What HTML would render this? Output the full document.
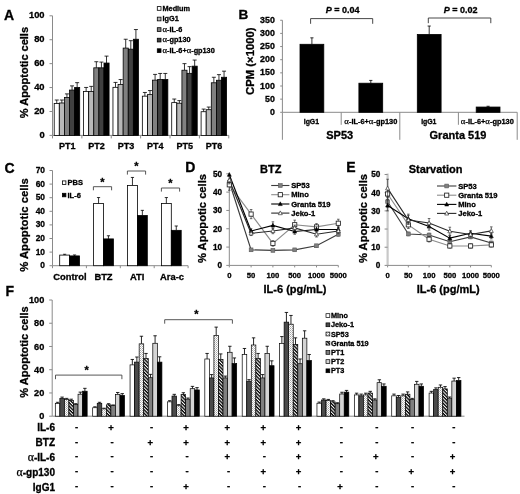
<!DOCTYPE html>
<html><head><meta charset="utf-8"><style>
html,body{margin:0;padding:0;background:#fff;}
svg{display:block;font-family:"Liberation Sans", sans-serif;filter:grayscale(1);}
text{stroke:#000;stroke-width:0.3px;}
</style></head><body>
<svg width="520" height="494" viewBox="0 0 520 494">
<defs>
<pattern id="dots" width="2" height="2" patternUnits="userSpaceOnUse">
<rect width="2" height="2" fill="#fff"/><rect width="1" height="1" fill="#a8a8a8"/><rect x="1" y="1" width="1" height="1" fill="#c8c8c8"/>
</pattern>
<pattern id="hatch" width="2.4" height="2.4" patternUnits="userSpaceOnUse" patternTransform="rotate(45)">
<rect width="2.4" height="2.4" fill="#fff"/><rect width="2.4" height="1.35" fill="#000"/>
</pattern>
</defs>
<rect width="520" height="494" fill="#fff"/>
<text x="4.00" y="19.70" font-size="14" text-anchor="start" font-weight="bold" fill="#000">A</text>
<line x1="52.50" y1="15.80" x2="52.50" y2="135.40" stroke="#8a8a8a" stroke-width="1"/>
<line x1="49.50" y1="135.40" x2="52.50" y2="135.40" stroke="#8a8a8a" stroke-width="1"/>
<text x="44.60" y="138.00" font-size="9.4" text-anchor="end" font-weight="bold" fill="#000">0</text>
<line x1="49.50" y1="111.48" x2="52.50" y2="111.48" stroke="#8a8a8a" stroke-width="1"/>
<text x="44.60" y="114.08" font-size="9.4" text-anchor="end" font-weight="bold" fill="#000">20</text>
<line x1="49.50" y1="87.56" x2="52.50" y2="87.56" stroke="#8a8a8a" stroke-width="1"/>
<text x="44.60" y="90.16" font-size="9.4" text-anchor="end" font-weight="bold" fill="#000">40</text>
<line x1="49.50" y1="63.64" x2="52.50" y2="63.64" stroke="#8a8a8a" stroke-width="1"/>
<text x="44.60" y="66.24" font-size="9.4" text-anchor="end" font-weight="bold" fill="#000">60</text>
<line x1="49.50" y1="39.72" x2="52.50" y2="39.72" stroke="#8a8a8a" stroke-width="1"/>
<text x="44.60" y="42.32" font-size="9.4" text-anchor="end" font-weight="bold" fill="#000">80</text>
<line x1="49.50" y1="15.80" x2="52.50" y2="15.80" stroke="#8a8a8a" stroke-width="1"/>
<text x="44.60" y="18.40" font-size="9.4" text-anchor="end" font-weight="bold" fill="#000">100</text>
<line x1="52.50" y1="135.40" x2="228.78" y2="135.40" stroke="#8a8a8a" stroke-width="1"/>
<line x1="52.50" y1="135.40" x2="52.50" y2="138.40" stroke="#8a8a8a" stroke-width="1"/>
<line x1="81.88" y1="135.40" x2="81.88" y2="138.40" stroke="#8a8a8a" stroke-width="1"/>
<line x1="111.26" y1="135.40" x2="111.26" y2="138.40" stroke="#8a8a8a" stroke-width="1"/>
<line x1="140.64" y1="135.40" x2="140.64" y2="138.40" stroke="#8a8a8a" stroke-width="1"/>
<line x1="170.02" y1="135.40" x2="170.02" y2="138.40" stroke="#8a8a8a" stroke-width="1"/>
<line x1="199.40" y1="135.40" x2="199.40" y2="138.40" stroke="#8a8a8a" stroke-width="1"/>
<line x1="228.78" y1="135.40" x2="228.78" y2="138.40" stroke="#8a8a8a" stroke-width="1"/>
<text x="27.80" y="72.60" font-size="11" text-anchor="middle" font-weight="bold" fill="#000" transform="rotate(-90 27.8 72.6)">% Apoptotic cells</text>
<line x1="56.75" y1="103.59" x2="56.75" y2="100.00" stroke="#000" stroke-width="0.8"/>
<line x1="54.75" y1="100.00" x2="58.75" y2="100.00" stroke="#000" stroke-width="0.8"/>
<rect x="54.20" y="103.59" width="5.10" height="31.81" fill="#ffffff" stroke="#000" stroke-width="0.8"/>
<line x1="61.85" y1="102.99" x2="61.85" y2="100.00" stroke="#000" stroke-width="0.8"/>
<line x1="59.85" y1="100.00" x2="63.85" y2="100.00" stroke="#000" stroke-width="0.8"/>
<rect x="59.30" y="102.99" width="5.10" height="32.41" fill="#b8b8b8" stroke="#000" stroke-width="0.8"/>
<line x1="66.95" y1="97.49" x2="66.95" y2="93.90" stroke="#000" stroke-width="0.8"/>
<line x1="64.95" y1="93.90" x2="68.95" y2="93.90" stroke="#000" stroke-width="0.8"/>
<rect x="64.40" y="97.49" width="5.10" height="37.91" fill="#808080" stroke="#000" stroke-width="0.8"/>
<line x1="72.05" y1="90.07" x2="72.05" y2="85.89" stroke="#000" stroke-width="0.8"/>
<line x1="70.05" y1="85.89" x2="74.05" y2="85.89" stroke="#000" stroke-width="0.8"/>
<rect x="69.50" y="90.07" width="5.10" height="45.33" fill="#404040" stroke="#000" stroke-width="0.8"/>
<line x1="77.15" y1="87.44" x2="77.15" y2="82.66" stroke="#000" stroke-width="0.8"/>
<line x1="75.15" y1="82.66" x2="79.15" y2="82.66" stroke="#000" stroke-width="0.8"/>
<rect x="74.60" y="87.44" width="5.10" height="47.96" fill="#000000" stroke="#000" stroke-width="0.8"/>
<text x="67.19" y="149.20" font-size="9.0" text-anchor="middle" font-weight="bold" fill="#000">PT1</text>
<line x1="86.13" y1="91.51" x2="86.13" y2="87.44" stroke="#000" stroke-width="0.8"/>
<line x1="84.13" y1="87.44" x2="88.13" y2="87.44" stroke="#000" stroke-width="0.8"/>
<rect x="83.58" y="91.51" width="5.10" height="43.89" fill="#ffffff" stroke="#000" stroke-width="0.8"/>
<line x1="91.23" y1="91.51" x2="91.23" y2="86.36" stroke="#000" stroke-width="0.8"/>
<line x1="89.23" y1="86.36" x2="93.23" y2="86.36" stroke="#000" stroke-width="0.8"/>
<rect x="88.68" y="91.51" width="5.10" height="43.89" fill="#b8b8b8" stroke="#000" stroke-width="0.8"/>
<line x1="96.33" y1="67.83" x2="96.33" y2="61.73" stroke="#000" stroke-width="0.8"/>
<line x1="94.33" y1="61.73" x2="98.33" y2="61.73" stroke="#000" stroke-width="0.8"/>
<rect x="93.78" y="67.83" width="5.10" height="67.57" fill="#808080" stroke="#000" stroke-width="0.8"/>
<line x1="101.43" y1="67.83" x2="101.43" y2="62.09" stroke="#000" stroke-width="0.8"/>
<line x1="99.43" y1="62.09" x2="103.43" y2="62.09" stroke="#000" stroke-width="0.8"/>
<rect x="98.88" y="67.83" width="5.10" height="67.57" fill="#404040" stroke="#000" stroke-width="0.8"/>
<line x1="106.53" y1="63.04" x2="106.53" y2="56.11" stroke="#000" stroke-width="0.8"/>
<line x1="104.53" y1="56.11" x2="108.53" y2="56.11" stroke="#000" stroke-width="0.8"/>
<rect x="103.98" y="63.04" width="5.10" height="72.36" fill="#000000" stroke="#000" stroke-width="0.8"/>
<text x="96.57" y="149.20" font-size="9.0" text-anchor="middle" font-weight="bold" fill="#000">PT2</text>
<line x1="115.51" y1="87.32" x2="115.51" y2="82.42" stroke="#000" stroke-width="0.8"/>
<line x1="113.51" y1="82.42" x2="117.51" y2="82.42" stroke="#000" stroke-width="0.8"/>
<rect x="112.96" y="87.32" width="5.10" height="48.08" fill="#ffffff" stroke="#000" stroke-width="0.8"/>
<line x1="120.61" y1="84.57" x2="120.61" y2="79.55" stroke="#000" stroke-width="0.8"/>
<line x1="118.61" y1="79.55" x2="122.61" y2="79.55" stroke="#000" stroke-width="0.8"/>
<rect x="118.06" y="84.57" width="5.10" height="50.83" fill="#b8b8b8" stroke="#000" stroke-width="0.8"/>
<line x1="125.71" y1="48.09" x2="125.71" y2="39.24" stroke="#000" stroke-width="0.8"/>
<line x1="123.71" y1="39.24" x2="127.71" y2="39.24" stroke="#000" stroke-width="0.8"/>
<rect x="123.16" y="48.09" width="5.10" height="87.31" fill="#808080" stroke="#000" stroke-width="0.8"/>
<line x1="130.81" y1="49.17" x2="130.81" y2="40.68" stroke="#000" stroke-width="0.8"/>
<line x1="128.81" y1="40.68" x2="132.81" y2="40.68" stroke="#000" stroke-width="0.8"/>
<rect x="128.26" y="49.17" width="5.10" height="86.23" fill="#404040" stroke="#000" stroke-width="0.8"/>
<line x1="135.91" y1="39.24" x2="135.91" y2="29.55" stroke="#000" stroke-width="0.8"/>
<line x1="133.91" y1="29.55" x2="137.91" y2="29.55" stroke="#000" stroke-width="0.8"/>
<rect x="133.36" y="39.24" width="5.10" height="96.16" fill="#000000" stroke="#000" stroke-width="0.8"/>
<text x="125.95" y="149.20" font-size="9.0" text-anchor="middle" font-weight="bold" fill="#000">PT3</text>
<line x1="144.89" y1="96.17" x2="144.89" y2="92.46" stroke="#000" stroke-width="0.8"/>
<line x1="142.89" y1="92.46" x2="146.89" y2="92.46" stroke="#000" stroke-width="0.8"/>
<rect x="142.34" y="96.17" width="5.10" height="39.23" fill="#ffffff" stroke="#000" stroke-width="0.8"/>
<line x1="149.99" y1="94.62" x2="149.99" y2="90.55" stroke="#000" stroke-width="0.8"/>
<line x1="147.99" y1="90.55" x2="151.99" y2="90.55" stroke="#000" stroke-width="0.8"/>
<rect x="147.44" y="94.62" width="5.10" height="40.78" fill="#b8b8b8" stroke="#000" stroke-width="0.8"/>
<line x1="155.09" y1="80.14" x2="155.09" y2="74.40" stroke="#000" stroke-width="0.8"/>
<line x1="153.09" y1="74.40" x2="157.09" y2="74.40" stroke="#000" stroke-width="0.8"/>
<rect x="152.54" y="80.14" width="5.10" height="55.26" fill="#808080" stroke="#000" stroke-width="0.8"/>
<line x1="160.19" y1="79.55" x2="160.19" y2="73.45" stroke="#000" stroke-width="0.8"/>
<line x1="158.19" y1="73.45" x2="162.19" y2="73.45" stroke="#000" stroke-width="0.8"/>
<rect x="157.64" y="79.55" width="5.10" height="55.85" fill="#404040" stroke="#000" stroke-width="0.8"/>
<line x1="165.29" y1="79.55" x2="165.29" y2="73.45" stroke="#000" stroke-width="0.8"/>
<line x1="163.29" y1="73.45" x2="167.29" y2="73.45" stroke="#000" stroke-width="0.8"/>
<rect x="162.74" y="79.55" width="5.10" height="55.85" fill="#000000" stroke="#000" stroke-width="0.8"/>
<text x="155.33" y="149.20" font-size="9.0" text-anchor="middle" font-weight="bold" fill="#000">PT4</text>
<line x1="174.27" y1="102.63" x2="174.27" y2="99.04" stroke="#000" stroke-width="0.8"/>
<line x1="172.27" y1="99.04" x2="176.27" y2="99.04" stroke="#000" stroke-width="0.8"/>
<rect x="171.72" y="102.63" width="5.10" height="32.77" fill="#ffffff" stroke="#000" stroke-width="0.8"/>
<line x1="179.37" y1="103.23" x2="179.37" y2="100.60" stroke="#000" stroke-width="0.8"/>
<line x1="177.37" y1="100.60" x2="181.37" y2="100.60" stroke="#000" stroke-width="0.8"/>
<rect x="176.82" y="103.23" width="5.10" height="32.17" fill="#b8b8b8" stroke="#000" stroke-width="0.8"/>
<line x1="184.47" y1="70.22" x2="184.47" y2="63.64" stroke="#000" stroke-width="0.8"/>
<line x1="182.47" y1="63.64" x2="186.47" y2="63.64" stroke="#000" stroke-width="0.8"/>
<rect x="181.92" y="70.22" width="5.10" height="65.18" fill="#808080" stroke="#000" stroke-width="0.8"/>
<line x1="189.57" y1="73.33" x2="189.57" y2="66.63" stroke="#000" stroke-width="0.8"/>
<line x1="187.57" y1="66.63" x2="191.57" y2="66.63" stroke="#000" stroke-width="0.8"/>
<rect x="187.02" y="73.33" width="5.10" height="62.07" fill="#404040" stroke="#000" stroke-width="0.8"/>
<line x1="194.67" y1="66.15" x2="194.67" y2="60.05" stroke="#000" stroke-width="0.8"/>
<line x1="192.67" y1="60.05" x2="196.67" y2="60.05" stroke="#000" stroke-width="0.8"/>
<rect x="192.12" y="66.15" width="5.10" height="69.25" fill="#000000" stroke="#000" stroke-width="0.8"/>
<text x="184.71" y="149.20" font-size="9.0" text-anchor="middle" font-weight="bold" fill="#000">PT5</text>
<line x1="203.65" y1="111.72" x2="203.65" y2="109.09" stroke="#000" stroke-width="0.8"/>
<line x1="201.65" y1="109.09" x2="205.65" y2="109.09" stroke="#000" stroke-width="0.8"/>
<rect x="201.10" y="111.72" width="5.10" height="23.68" fill="#ffffff" stroke="#000" stroke-width="0.8"/>
<line x1="208.75" y1="109.69" x2="208.75" y2="107.05" stroke="#000" stroke-width="0.8"/>
<line x1="206.75" y1="107.05" x2="210.75" y2="107.05" stroke="#000" stroke-width="0.8"/>
<rect x="206.20" y="109.69" width="5.10" height="25.71" fill="#b8b8b8" stroke="#000" stroke-width="0.8"/>
<line x1="213.85" y1="82.78" x2="213.85" y2="77.27" stroke="#000" stroke-width="0.8"/>
<line x1="211.85" y1="77.27" x2="215.85" y2="77.27" stroke="#000" stroke-width="0.8"/>
<rect x="211.30" y="82.78" width="5.10" height="52.62" fill="#808080" stroke="#000" stroke-width="0.8"/>
<line x1="218.95" y1="80.26" x2="218.95" y2="74.64" stroke="#000" stroke-width="0.8"/>
<line x1="216.95" y1="74.64" x2="220.95" y2="74.64" stroke="#000" stroke-width="0.8"/>
<rect x="216.40" y="80.26" width="5.10" height="55.14" fill="#404040" stroke="#000" stroke-width="0.8"/>
<line x1="224.05" y1="77.27" x2="224.05" y2="71.17" stroke="#000" stroke-width="0.8"/>
<line x1="222.05" y1="71.17" x2="226.05" y2="71.17" stroke="#000" stroke-width="0.8"/>
<rect x="221.50" y="77.27" width="5.10" height="58.13" fill="#000000" stroke="#000" stroke-width="0.8"/>
<text x="214.09" y="149.20" font-size="9.0" text-anchor="middle" font-weight="bold" fill="#000">PT6</text>
<rect x="157.30" y="6.60" width="3.70" height="3.70" fill="#ffffff" stroke="#000" stroke-width="0.8"/>
<text x="162.50" y="10.80" font-size="7.3" text-anchor="start" font-weight="bold" fill="#000">Medium</text>
<rect x="157.30" y="17.15" width="3.70" height="3.70" fill="#b8b8b8" stroke="#000" stroke-width="0.8"/>
<text x="162.50" y="21.35" font-size="7.3" text-anchor="start" font-weight="bold" fill="#000">IgG1</text>
<rect x="157.30" y="27.70" width="3.70" height="3.70" fill="#808080" stroke="#000" stroke-width="0.8"/>
<text x="162.50" y="31.90" font-size="7.3" text-anchor="start" font-weight="bold" fill="#000"><tspan font-family="Liberation Serif" font-weight="normal" font-size="1.18em" stroke-width="0.25">&#945;</tspan>-IL-6</text>
<rect x="157.30" y="38.25" width="3.70" height="3.70" fill="#404040" stroke="#000" stroke-width="0.8"/>
<text x="162.50" y="42.45" font-size="7.3" text-anchor="start" font-weight="bold" fill="#000"><tspan font-family="Liberation Serif" font-weight="normal" font-size="1.18em" stroke-width="0.25">&#945;</tspan>-gp130</text>
<rect x="157.30" y="48.80" width="3.70" height="3.70" fill="#000000" stroke="#000" stroke-width="0.8"/>
<text x="162.50" y="53.00" font-size="7.3" text-anchor="start" font-weight="bold" fill="#000"><tspan font-family="Liberation Serif" font-weight="normal" font-size="1.18em" stroke-width="0.25">&#945;</tspan>-IL-6+<tspan font-family="Liberation Serif" font-weight="normal" font-size="1.18em" stroke-width="0.25">&#945;</tspan>-gp130</text>
<text x="238.60" y="19.00" font-size="13.6" text-anchor="start" font-weight="bold" fill="#000">B</text>
<line x1="282.40" y1="20.25" x2="282.40" y2="112.30" stroke="#8a8a8a" stroke-width="1"/>
<line x1="280.20" y1="112.30" x2="282.40" y2="112.30" stroke="#8a8a8a" stroke-width="1"/>
<text x="274.80" y="114.90" font-size="8.8" text-anchor="end" font-weight="bold" fill="#000">0</text>
<line x1="280.20" y1="99.15" x2="282.40" y2="99.15" stroke="#8a8a8a" stroke-width="1"/>
<text x="274.80" y="101.75" font-size="8.8" text-anchor="end" font-weight="bold" fill="#000">50</text>
<line x1="280.20" y1="86.00" x2="282.40" y2="86.00" stroke="#8a8a8a" stroke-width="1"/>
<text x="274.80" y="88.60" font-size="8.8" text-anchor="end" font-weight="bold" fill="#000">100</text>
<line x1="280.20" y1="72.85" x2="282.40" y2="72.85" stroke="#8a8a8a" stroke-width="1"/>
<text x="274.80" y="75.45" font-size="8.8" text-anchor="end" font-weight="bold" fill="#000">150</text>
<line x1="280.20" y1="59.70" x2="282.40" y2="59.70" stroke="#8a8a8a" stroke-width="1"/>
<text x="274.80" y="62.30" font-size="8.8" text-anchor="end" font-weight="bold" fill="#000">200</text>
<line x1="280.20" y1="46.55" x2="282.40" y2="46.55" stroke="#8a8a8a" stroke-width="1"/>
<text x="274.80" y="49.15" font-size="8.8" text-anchor="end" font-weight="bold" fill="#000">250</text>
<line x1="280.20" y1="33.40" x2="282.40" y2="33.40" stroke="#8a8a8a" stroke-width="1"/>
<text x="274.80" y="36.00" font-size="8.8" text-anchor="end" font-weight="bold" fill="#000">300</text>
<line x1="280.20" y1="20.25" x2="282.40" y2="20.25" stroke="#8a8a8a" stroke-width="1"/>
<text x="274.80" y="22.85" font-size="8.8" text-anchor="end" font-weight="bold" fill="#000">350</text>
<text x="254.20" y="61.20" font-size="11.3" text-anchor="middle" font-weight="bold" fill="#000" transform="rotate(-90 254.2 61.2)">CPM (&#215;1000)</text>
<line x1="282.40" y1="112.30" x2="517.20" y2="112.30" stroke="#8a8a8a" stroke-width="1"/>
<line x1="282.40" y1="112.30" x2="282.40" y2="139.80" stroke="#8a8a8a" stroke-width="1"/>
<line x1="341.20" y1="112.30" x2="341.20" y2="124.80" stroke="#8a8a8a" stroke-width="1"/>
<line x1="399.80" y1="112.30" x2="399.80" y2="139.80" stroke="#8a8a8a" stroke-width="1"/>
<line x1="458.40" y1="112.30" x2="458.40" y2="124.80" stroke="#8a8a8a" stroke-width="1"/>
<line x1="517.20" y1="112.30" x2="517.20" y2="139.80" stroke="#8a8a8a" stroke-width="1"/>
<line x1="311.90" y1="44.29" x2="311.90" y2="37.84" stroke="#000" stroke-width="0.8"/>
<line x1="310.30" y1="37.84" x2="313.50" y2="37.84" stroke="#000" stroke-width="0.8"/>
<rect x="300.00" y="44.29" width="23.80" height="68.01" fill="#000" stroke="#000" stroke-width="0.8"/>
<line x1="370.80" y1="83.21" x2="370.80" y2="80.42" stroke="#000" stroke-width="0.8"/>
<line x1="369.20" y1="80.42" x2="372.40" y2="80.42" stroke="#000" stroke-width="0.8"/>
<rect x="358.90" y="83.21" width="23.80" height="29.09" fill="#000" stroke="#000" stroke-width="0.8"/>
<line x1="429.20" y1="34.45" x2="429.20" y2="26.04" stroke="#000" stroke-width="0.8"/>
<line x1="427.60" y1="26.04" x2="430.80" y2="26.04" stroke="#000" stroke-width="0.8"/>
<rect x="417.30" y="34.45" width="23.80" height="77.85" fill="#000" stroke="#000" stroke-width="0.8"/>
<line x1="488.10" y1="107.04" x2="488.10" y2="106.25" stroke="#000" stroke-width="0.8"/>
<line x1="486.50" y1="106.25" x2="489.70" y2="106.25" stroke="#000" stroke-width="0.8"/>
<rect x="476.20" y="107.04" width="23.80" height="5.26" fill="#000" stroke="#000" stroke-width="0.8"/>
<text x="311.40" y="123.80" font-size="6.9" text-anchor="middle" font-weight="bold" fill="#000">IgG1</text>
<text x="370.80" y="123.80" font-size="7.4" text-anchor="middle" font-weight="bold" fill="#000"><tspan font-family="Liberation Serif" font-weight="normal" font-size="1.18em" stroke-width="0.25">&#945;</tspan>-IL-6+<tspan font-family="Liberation Serif" font-weight="normal" font-size="1.18em" stroke-width="0.25">&#945;</tspan>-gp130</text>
<text x="428.80" y="123.80" font-size="6.9" text-anchor="middle" font-weight="bold" fill="#000">IgG1</text>
<text x="487.30" y="123.80" font-size="7.4" text-anchor="middle" font-weight="bold" fill="#000"><tspan font-family="Liberation Serif" font-weight="normal" font-size="1.18em" stroke-width="0.25">&#945;</tspan>-IL-6+<tspan font-family="Liberation Serif" font-weight="normal" font-size="1.18em" stroke-width="0.25">&#945;</tspan>-gp130</text>
<text x="339.70" y="139.40" font-size="11" text-anchor="middle" font-weight="bold" fill="#000">SP53</text>
<text x="458.00" y="139.40" font-size="11" text-anchor="middle" font-weight="bold" fill="#000">Granta 519</text>
<path d="M310.6 23.8 V18.6 H372.7 V23.8" fill="none" stroke="#333" stroke-width="0.9"/>
<path d="M428.3 23.2 V18.0 H490.8 V23.2" fill="none" stroke="#333" stroke-width="0.9"/>
<text x="342.6" y="13.3" font-size="9" text-anchor="middle" font-weight="bold"><tspan font-style="italic">P</tspan> = 0.04</text>
<text x="460.6" y="13.3" font-size="9" text-anchor="middle" font-weight="bold"><tspan font-style="italic">P</tspan> = 0.02</text>
<text x="4.40" y="172.60" font-size="14" text-anchor="start" font-weight="bold" fill="#000">C</text>
<line x1="52.50" y1="170.50" x2="52.50" y2="265.70" stroke="#8a8a8a" stroke-width="1"/>
<line x1="49.50" y1="265.70" x2="52.50" y2="265.70" stroke="#8a8a8a" stroke-width="1"/>
<text x="45.00" y="268.20" font-size="8.4" text-anchor="end" font-weight="bold" fill="#000">0</text>
<line x1="49.50" y1="252.10" x2="52.50" y2="252.10" stroke="#8a8a8a" stroke-width="1"/>
<text x="45.00" y="254.60" font-size="8.4" text-anchor="end" font-weight="bold" fill="#000">10</text>
<line x1="49.50" y1="238.50" x2="52.50" y2="238.50" stroke="#8a8a8a" stroke-width="1"/>
<text x="45.00" y="241.00" font-size="8.4" text-anchor="end" font-weight="bold" fill="#000">20</text>
<line x1="49.50" y1="224.90" x2="52.50" y2="224.90" stroke="#8a8a8a" stroke-width="1"/>
<text x="45.00" y="227.40" font-size="8.4" text-anchor="end" font-weight="bold" fill="#000">30</text>
<line x1="49.50" y1="211.30" x2="52.50" y2="211.30" stroke="#8a8a8a" stroke-width="1"/>
<text x="45.00" y="213.80" font-size="8.4" text-anchor="end" font-weight="bold" fill="#000">40</text>
<line x1="49.50" y1="197.70" x2="52.50" y2="197.70" stroke="#8a8a8a" stroke-width="1"/>
<text x="45.00" y="200.20" font-size="8.4" text-anchor="end" font-weight="bold" fill="#000">50</text>
<line x1="49.50" y1="184.10" x2="52.50" y2="184.10" stroke="#8a8a8a" stroke-width="1"/>
<text x="45.00" y="186.60" font-size="8.4" text-anchor="end" font-weight="bold" fill="#000">60</text>
<line x1="49.50" y1="170.50" x2="52.50" y2="170.50" stroke="#8a8a8a" stroke-width="1"/>
<text x="45.00" y="173.00" font-size="8.4" text-anchor="end" font-weight="bold" fill="#000">70</text>
<text x="27.90" y="225.00" font-size="11.3" text-anchor="middle" font-weight="bold" fill="#000" transform="rotate(-90 27.9 225.0)">% Apoptotic cells</text>
<line x1="52.50" y1="265.70" x2="188.10" y2="265.70" stroke="#8a8a8a" stroke-width="1"/>
<line x1="52.50" y1="265.70" x2="52.50" y2="268.20" stroke="#8a8a8a" stroke-width="1"/>
<line x1="86.40" y1="265.70" x2="86.40" y2="268.20" stroke="#8a8a8a" stroke-width="1"/>
<line x1="120.30" y1="265.70" x2="120.30" y2="268.20" stroke="#8a8a8a" stroke-width="1"/>
<line x1="154.20" y1="265.70" x2="154.20" y2="268.20" stroke="#8a8a8a" stroke-width="1"/>
<line x1="188.10" y1="265.70" x2="188.10" y2="268.20" stroke="#8a8a8a" stroke-width="1"/>
<line x1="64.65" y1="255.09" x2="64.65" y2="254.28" stroke="#000" stroke-width="0.8"/>
<line x1="63.05" y1="254.28" x2="66.25" y2="254.28" stroke="#000" stroke-width="0.8"/>
<rect x="59.70" y="255.09" width="9.90" height="10.61" fill="#fff" stroke="#000" stroke-width="0.8"/>
<line x1="74.55" y1="255.91" x2="74.55" y2="254.96" stroke="#000" stroke-width="0.8"/>
<line x1="72.95" y1="254.96" x2="76.15" y2="254.96" stroke="#000" stroke-width="0.8"/>
<rect x="69.60" y="255.91" width="9.90" height="9.79" fill="#000" stroke="#000" stroke-width="0.8"/>
<line x1="98.55" y1="203.55" x2="98.55" y2="197.56" stroke="#000" stroke-width="0.8"/>
<line x1="96.95" y1="197.56" x2="100.15" y2="197.56" stroke="#000" stroke-width="0.8"/>
<rect x="93.60" y="203.55" width="9.90" height="62.15" fill="#fff" stroke="#000" stroke-width="0.8"/>
<line x1="108.45" y1="238.91" x2="108.45" y2="235.78" stroke="#000" stroke-width="0.8"/>
<line x1="106.85" y1="235.78" x2="110.05" y2="235.78" stroke="#000" stroke-width="0.8"/>
<rect x="103.50" y="238.91" width="9.90" height="26.79" fill="#000" stroke="#000" stroke-width="0.8"/>
<line x1="132.45" y1="185.46" x2="132.45" y2="177.44" stroke="#000" stroke-width="0.8"/>
<line x1="130.85" y1="177.44" x2="134.05" y2="177.44" stroke="#000" stroke-width="0.8"/>
<rect x="127.50" y="185.46" width="9.90" height="80.24" fill="#fff" stroke="#000" stroke-width="0.8"/>
<line x1="142.35" y1="215.52" x2="142.35" y2="210.35" stroke="#000" stroke-width="0.8"/>
<line x1="140.75" y1="210.35" x2="143.95" y2="210.35" stroke="#000" stroke-width="0.8"/>
<rect x="137.40" y="215.52" width="9.90" height="50.18" fill="#000" stroke="#000" stroke-width="0.8"/>
<line x1="166.35" y1="203.55" x2="166.35" y2="197.56" stroke="#000" stroke-width="0.8"/>
<line x1="164.75" y1="197.56" x2="167.95" y2="197.56" stroke="#000" stroke-width="0.8"/>
<rect x="161.40" y="203.55" width="9.90" height="62.15" fill="#fff" stroke="#000" stroke-width="0.8"/>
<line x1="176.25" y1="230.34" x2="176.25" y2="225.99" stroke="#000" stroke-width="0.8"/>
<line x1="174.65" y1="225.99" x2="177.85" y2="225.99" stroke="#000" stroke-width="0.8"/>
<rect x="171.30" y="230.34" width="9.90" height="35.36" fill="#000" stroke="#000" stroke-width="0.8"/>
<text x="69.90" y="279.80" font-size="9.4" text-anchor="middle" font-weight="bold" fill="#000">Control</text>
<text x="103.50" y="279.80" font-size="9.4" text-anchor="middle" font-weight="bold" fill="#000">BTZ</text>
<text x="137.10" y="279.80" font-size="9.4" text-anchor="middle" font-weight="bold" fill="#000">ATI</text>
<text x="172.00" y="279.80" font-size="9.4" text-anchor="middle" font-weight="bold" fill="#000">Ara-c</text>
<path d="M93.4 190.29999999999998 V186.7 H111.6 V190.29999999999998" fill="none" stroke="#444" stroke-width="0.9"/>
<text x="102.50" y="185.50" font-size="11" text-anchor="middle" font-weight="bold" fill="#000">*</text>
<path d="M127.4 174.6 V171.0 H145.6 V174.6" fill="none" stroke="#444" stroke-width="0.9"/>
<text x="136.50" y="169.80" font-size="11" text-anchor="middle" font-weight="bold" fill="#000">*</text>
<path d="M161.4 191.6 V188.0 H179.6 V191.6" fill="none" stroke="#444" stroke-width="0.9"/>
<text x="170.50" y="186.80" font-size="11" text-anchor="middle" font-weight="bold" fill="#000">*</text>
<rect x="62.40" y="180.90" width="3.50" height="3.50" fill="#fff" stroke="#000" stroke-width="0.8"/>
<text x="67.50" y="185.30" font-size="7.5" text-anchor="start" font-weight="bold" fill="#000">PBS</text>
<rect x="62.40" y="193.30" width="3.50" height="3.50" fill="#000" stroke="#000" stroke-width="0.8"/>
<text x="67.50" y="197.70" font-size="7.5" text-anchor="start" font-weight="bold" fill="#000">IL-6</text>
<text x="185.20" y="172.00" font-size="14" text-anchor="start" font-weight="bold" fill="#000">D</text>
<line x1="229.30" y1="173.80" x2="229.30" y2="265.40" stroke="#8a8a8a" stroke-width="1"/>
<line x1="226.30" y1="265.40" x2="229.30" y2="265.40" stroke="#8a8a8a" stroke-width="1"/>
<text x="222.10" y="268.30" font-size="8.2" text-anchor="end" font-weight="bold" fill="#000">0</text>
<line x1="226.30" y1="247.08" x2="229.30" y2="247.08" stroke="#8a8a8a" stroke-width="1"/>
<text x="222.10" y="249.98" font-size="8.2" text-anchor="end" font-weight="bold" fill="#000">10</text>
<line x1="226.30" y1="228.76" x2="229.30" y2="228.76" stroke="#8a8a8a" stroke-width="1"/>
<text x="222.10" y="231.66" font-size="8.2" text-anchor="end" font-weight="bold" fill="#000">20</text>
<line x1="226.30" y1="210.44" x2="229.30" y2="210.44" stroke="#8a8a8a" stroke-width="1"/>
<text x="222.10" y="213.34" font-size="8.2" text-anchor="end" font-weight="bold" fill="#000">30</text>
<line x1="226.30" y1="192.12" x2="229.30" y2="192.12" stroke="#8a8a8a" stroke-width="1"/>
<text x="222.10" y="195.02" font-size="8.2" text-anchor="end" font-weight="bold" fill="#000">40</text>
<line x1="226.30" y1="173.80" x2="229.30" y2="173.80" stroke="#8a8a8a" stroke-width="1"/>
<text x="222.10" y="176.70" font-size="8.2" text-anchor="end" font-weight="bold" fill="#000">50</text>
<line x1="229.30" y1="265.40" x2="338.30" y2="265.40" stroke="#8a8a8a" stroke-width="1"/>
<line x1="229.30" y1="265.40" x2="229.30" y2="267.40" stroke="#8a8a8a" stroke-width="1"/>
<line x1="251.10" y1="265.40" x2="251.10" y2="267.40" stroke="#8a8a8a" stroke-width="1"/>
<line x1="272.90" y1="265.40" x2="272.90" y2="267.40" stroke="#8a8a8a" stroke-width="1"/>
<line x1="294.70" y1="265.40" x2="294.70" y2="267.40" stroke="#8a8a8a" stroke-width="1"/>
<line x1="316.50" y1="265.40" x2="316.50" y2="267.40" stroke="#8a8a8a" stroke-width="1"/>
<line x1="338.30" y1="265.40" x2="338.30" y2="267.40" stroke="#8a8a8a" stroke-width="1"/>
<text x="229.30" y="277.60" font-size="7.7" text-anchor="middle" font-weight="bold" fill="#000">0</text>
<text x="251.10" y="277.60" font-size="7.7" text-anchor="middle" font-weight="bold" fill="#000">50</text>
<text x="272.90" y="277.60" font-size="7.7" text-anchor="middle" font-weight="bold" fill="#000">100</text>
<text x="294.70" y="277.60" font-size="7.7" text-anchor="middle" font-weight="bold" fill="#000">500</text>
<text x="316.50" y="277.60" font-size="7.7" text-anchor="middle" font-weight="bold" fill="#000">1000</text>
<text x="338.30" y="277.60" font-size="7.7" text-anchor="middle" font-weight="bold" fill="#000">5000</text>
<text x="295.00" y="292.60" font-size="11" text-anchor="middle" font-weight="bold" fill="#000">IL-6 (pg/mL)</text>
<text x="270.80" y="173.40" font-size="11" text-anchor="middle" font-weight="bold" fill="#000">BTZ</text>
<text x="205.60" y="218.50" font-size="11.2" text-anchor="middle" font-weight="bold" fill="#000" transform="rotate(-90 205.6 218.5)">% Apopotic cells</text>
<polyline points="229.30,182.04 251.10,249.83 272.90,250.38 294.70,249.83 316.50,245.80 338.30,234.26" fill="none" stroke="#3c3c3c" stroke-width="1.15"/>
<polyline points="229.30,184.79 251.10,214.10 272.90,243.42 294.70,224.73 316.50,226.93 338.30,223.26" fill="none" stroke="#8c8c8c" stroke-width="1.15"/>
<polyline points="229.30,174.72 251.10,230.96 272.90,225.46 294.70,231.51 316.50,229.49 338.30,229.49" fill="none" stroke="#000" stroke-width="1.15"/>
<polyline points="229.30,180.21 251.10,233.34 272.90,230.96 294.70,227.84 316.50,234.26 338.30,230.96" fill="none" stroke="#2a2a2a" stroke-width="1.15"/>
<rect x="227.40" y="180.14" width="3.80" height="3.80" fill="#808080" stroke="#5a5a5a" stroke-width="0.6"/>
<line x1="251.10" y1="250.93" x2="251.10" y2="248.73" stroke="#333" stroke-width="0.7"/>
<line x1="249.80" y1="248.73" x2="252.40" y2="248.73" stroke="#333" stroke-width="0.7"/>
<line x1="249.80" y1="250.93" x2="252.40" y2="250.93" stroke="#333" stroke-width="0.7"/>
<rect x="249.20" y="247.93" width="3.80" height="3.80" fill="#808080" stroke="#5a5a5a" stroke-width="0.6"/>
<line x1="272.90" y1="251.48" x2="272.90" y2="249.28" stroke="#333" stroke-width="0.7"/>
<line x1="271.60" y1="249.28" x2="274.20" y2="249.28" stroke="#333" stroke-width="0.7"/>
<line x1="271.60" y1="251.48" x2="274.20" y2="251.48" stroke="#333" stroke-width="0.7"/>
<rect x="271.00" y="248.48" width="3.80" height="3.80" fill="#808080" stroke="#5a5a5a" stroke-width="0.6"/>
<line x1="294.70" y1="250.93" x2="294.70" y2="248.73" stroke="#333" stroke-width="0.7"/>
<line x1="293.40" y1="248.73" x2="296.00" y2="248.73" stroke="#333" stroke-width="0.7"/>
<line x1="293.40" y1="250.93" x2="296.00" y2="250.93" stroke="#333" stroke-width="0.7"/>
<rect x="292.80" y="247.93" width="3.80" height="3.80" fill="#808080" stroke="#5a5a5a" stroke-width="0.6"/>
<line x1="316.50" y1="247.26" x2="316.50" y2="244.33" stroke="#333" stroke-width="0.7"/>
<line x1="315.20" y1="244.33" x2="317.80" y2="244.33" stroke="#333" stroke-width="0.7"/>
<line x1="315.20" y1="247.26" x2="317.80" y2="247.26" stroke="#333" stroke-width="0.7"/>
<rect x="314.60" y="243.90" width="3.80" height="3.80" fill="#808080" stroke="#5a5a5a" stroke-width="0.6"/>
<line x1="338.30" y1="236.09" x2="338.30" y2="232.42" stroke="#333" stroke-width="0.7"/>
<line x1="337.00" y1="232.42" x2="339.60" y2="232.42" stroke="#333" stroke-width="0.7"/>
<line x1="337.00" y1="236.09" x2="339.60" y2="236.09" stroke="#333" stroke-width="0.7"/>
<rect x="336.40" y="232.36" width="3.80" height="3.80" fill="#808080" stroke="#5a5a5a" stroke-width="0.6"/>
<line x1="229.30" y1="190.29" x2="229.30" y2="179.30" stroke="#333" stroke-width="0.7"/>
<line x1="228.00" y1="179.30" x2="230.60" y2="179.30" stroke="#333" stroke-width="0.7"/>
<line x1="228.00" y1="190.29" x2="230.60" y2="190.29" stroke="#333" stroke-width="0.7"/>
<rect x="227.20" y="182.69" width="4.20" height="4.20" fill="#fff" stroke="#222" stroke-width="0.85"/>
<line x1="251.10" y1="218.68" x2="251.10" y2="209.52" stroke="#333" stroke-width="0.7"/>
<line x1="249.80" y1="209.52" x2="252.40" y2="209.52" stroke="#333" stroke-width="0.7"/>
<line x1="249.80" y1="218.68" x2="252.40" y2="218.68" stroke="#333" stroke-width="0.7"/>
<rect x="249.00" y="212.00" width="4.20" height="4.20" fill="#fff" stroke="#222" stroke-width="0.85"/>
<line x1="272.90" y1="246.16" x2="272.90" y2="240.67" stroke="#333" stroke-width="0.7"/>
<line x1="271.60" y1="240.67" x2="274.20" y2="240.67" stroke="#333" stroke-width="0.7"/>
<line x1="271.60" y1="246.16" x2="274.20" y2="246.16" stroke="#333" stroke-width="0.7"/>
<rect x="270.80" y="241.32" width="4.20" height="4.20" fill="#fff" stroke="#222" stroke-width="0.85"/>
<line x1="294.70" y1="229.31" x2="294.70" y2="220.15" stroke="#333" stroke-width="0.7"/>
<line x1="293.40" y1="220.15" x2="296.00" y2="220.15" stroke="#333" stroke-width="0.7"/>
<line x1="293.40" y1="229.31" x2="296.00" y2="229.31" stroke="#333" stroke-width="0.7"/>
<rect x="292.60" y="222.63" width="4.20" height="4.20" fill="#fff" stroke="#222" stroke-width="0.85"/>
<line x1="316.50" y1="230.23" x2="316.50" y2="223.63" stroke="#333" stroke-width="0.7"/>
<line x1="315.20" y1="223.63" x2="317.80" y2="223.63" stroke="#333" stroke-width="0.7"/>
<line x1="315.20" y1="230.23" x2="317.80" y2="230.23" stroke="#333" stroke-width="0.7"/>
<rect x="314.40" y="224.83" width="4.20" height="4.20" fill="#fff" stroke="#222" stroke-width="0.85"/>
<line x1="338.30" y1="227.29" x2="338.30" y2="219.23" stroke="#333" stroke-width="0.7"/>
<line x1="337.00" y1="219.23" x2="339.60" y2="219.23" stroke="#333" stroke-width="0.7"/>
<line x1="337.00" y1="227.29" x2="339.60" y2="227.29" stroke="#333" stroke-width="0.7"/>
<rect x="336.20" y="221.16" width="4.20" height="4.20" fill="#fff" stroke="#222" stroke-width="0.85"/>
<path d="M229.30 172.52 L231.30 176.32 L227.30 176.32 Z" fill="#000" stroke="#000" stroke-width="0.5"/>
<line x1="251.10" y1="233.16" x2="251.10" y2="228.76" stroke="#333" stroke-width="0.7"/>
<line x1="249.80" y1="228.76" x2="252.40" y2="228.76" stroke="#333" stroke-width="0.7"/>
<line x1="249.80" y1="233.16" x2="252.40" y2="233.16" stroke="#333" stroke-width="0.7"/>
<path d="M251.10 228.76 L253.10 232.56 L249.10 232.56 Z" fill="#000" stroke="#000" stroke-width="0.5"/>
<line x1="272.90" y1="229.13" x2="272.90" y2="221.80" stroke="#333" stroke-width="0.7"/>
<line x1="271.60" y1="221.80" x2="274.20" y2="221.80" stroke="#333" stroke-width="0.7"/>
<line x1="271.60" y1="229.13" x2="274.20" y2="229.13" stroke="#333" stroke-width="0.7"/>
<path d="M272.90 223.26 L274.90 227.06 L270.90 227.06 Z" fill="#000" stroke="#000" stroke-width="0.5"/>
<line x1="294.70" y1="234.26" x2="294.70" y2="228.76" stroke="#333" stroke-width="0.7"/>
<line x1="293.40" y1="228.76" x2="296.00" y2="228.76" stroke="#333" stroke-width="0.7"/>
<line x1="293.40" y1="234.26" x2="296.00" y2="234.26" stroke="#333" stroke-width="0.7"/>
<path d="M294.70 229.31 L296.70 233.11 L292.70 233.11 Z" fill="#000" stroke="#000" stroke-width="0.5"/>
<line x1="316.50" y1="232.24" x2="316.50" y2="226.74" stroke="#333" stroke-width="0.7"/>
<line x1="315.20" y1="226.74" x2="317.80" y2="226.74" stroke="#333" stroke-width="0.7"/>
<line x1="315.20" y1="232.24" x2="317.80" y2="232.24" stroke="#333" stroke-width="0.7"/>
<path d="M316.50 227.29 L318.50 231.09 L314.50 231.09 Z" fill="#000" stroke="#000" stroke-width="0.5"/>
<line x1="338.30" y1="232.24" x2="338.30" y2="226.74" stroke="#333" stroke-width="0.7"/>
<line x1="337.00" y1="226.74" x2="339.60" y2="226.74" stroke="#333" stroke-width="0.7"/>
<line x1="337.00" y1="232.24" x2="339.60" y2="232.24" stroke="#333" stroke-width="0.7"/>
<path d="M338.30 227.29 L340.30 231.09 L336.30 231.09 Z" fill="#000" stroke="#000" stroke-width="0.5"/>
<line x1="229.30" y1="183.88" x2="229.30" y2="176.55" stroke="#333" stroke-width="0.7"/>
<line x1="228.00" y1="176.55" x2="230.60" y2="176.55" stroke="#333" stroke-width="0.7"/>
<line x1="228.00" y1="183.88" x2="230.60" y2="183.88" stroke="#333" stroke-width="0.7"/>
<path d="M229.30 178.01 L231.30 181.81 L227.30 181.81 Z" fill="#fff" stroke="#333" stroke-width="0.7"/>
<line x1="251.10" y1="235.54" x2="251.10" y2="231.14" stroke="#333" stroke-width="0.7"/>
<line x1="249.80" y1="231.14" x2="252.40" y2="231.14" stroke="#333" stroke-width="0.7"/>
<line x1="249.80" y1="235.54" x2="252.40" y2="235.54" stroke="#333" stroke-width="0.7"/>
<path d="M251.10 231.14 L253.10 234.94 L249.10 234.94 Z" fill="#fff" stroke="#333" stroke-width="0.7"/>
<line x1="272.90" y1="233.71" x2="272.90" y2="228.21" stroke="#333" stroke-width="0.7"/>
<line x1="271.60" y1="228.21" x2="274.20" y2="228.21" stroke="#333" stroke-width="0.7"/>
<line x1="271.60" y1="233.71" x2="274.20" y2="233.71" stroke="#333" stroke-width="0.7"/>
<path d="M272.90 228.76 L274.90 232.56 L270.90 232.56 Z" fill="#fff" stroke="#333" stroke-width="0.7"/>
<line x1="294.70" y1="230.59" x2="294.70" y2="225.10" stroke="#333" stroke-width="0.7"/>
<line x1="293.40" y1="225.10" x2="296.00" y2="225.10" stroke="#333" stroke-width="0.7"/>
<line x1="293.40" y1="230.59" x2="296.00" y2="230.59" stroke="#333" stroke-width="0.7"/>
<path d="M294.70 225.64 L296.70 229.44 L292.70 229.44 Z" fill="#fff" stroke="#333" stroke-width="0.7"/>
<line x1="316.50" y1="237.00" x2="316.50" y2="231.51" stroke="#333" stroke-width="0.7"/>
<line x1="315.20" y1="231.51" x2="317.80" y2="231.51" stroke="#333" stroke-width="0.7"/>
<line x1="315.20" y1="237.00" x2="317.80" y2="237.00" stroke="#333" stroke-width="0.7"/>
<path d="M316.50 232.06 L318.50 235.86 L314.50 235.86 Z" fill="#fff" stroke="#333" stroke-width="0.7"/>
<line x1="338.30" y1="233.71" x2="338.30" y2="228.21" stroke="#333" stroke-width="0.7"/>
<line x1="337.00" y1="228.21" x2="339.60" y2="228.21" stroke="#333" stroke-width="0.7"/>
<line x1="337.00" y1="233.71" x2="339.60" y2="233.71" stroke="#333" stroke-width="0.7"/>
<path d="M338.30 228.76 L340.30 232.56 L336.30 232.56 Z" fill="#fff" stroke="#333" stroke-width="0.7"/>
<line x1="271.20" y1="185.50" x2="289.40" y2="185.50" stroke="#3c3c3c" stroke-width="1.1"/>
<rect x="278.40" y="183.60" width="3.80" height="3.80" fill="#808080" stroke="#5a5a5a" stroke-width="0.6"/>
<text x="291.20" y="188.20" font-size="7.6" text-anchor="start" font-weight="bold" fill="#000">SP53</text>
<line x1="271.20" y1="194.70" x2="289.40" y2="194.70" stroke="#8c8c8c" stroke-width="1.1"/>
<rect x="278.20" y="192.60" width="4.20" height="4.20" fill="#fff" stroke="#222" stroke-width="0.85"/>
<text x="291.20" y="197.40" font-size="7.6" text-anchor="start" font-weight="bold" fill="#000">Mino</text>
<line x1="271.20" y1="204.00" x2="289.40" y2="204.00" stroke="#000" stroke-width="1.1"/>
<path d="M280.30 201.80 L282.30 205.60 L278.30 205.60 Z" fill="#000" stroke="#000" stroke-width="0.5"/>
<text x="291.20" y="206.70" font-size="7.6" text-anchor="start" font-weight="bold" fill="#000">Granta 519</text>
<line x1="271.20" y1="213.10" x2="289.40" y2="213.10" stroke="#2a2a2a" stroke-width="1.1"/>
<path d="M280.30 210.90 L282.30 214.70 L278.30 214.70 Z" fill="#fff" stroke="#333" stroke-width="0.7"/>
<text x="291.20" y="215.80" font-size="7.6" text-anchor="start" font-weight="bold" fill="#000">Jeko-1</text>
<text x="346.20" y="172.00" font-size="14" text-anchor="start" font-weight="bold" fill="#000">E</text>
<line x1="387.60" y1="173.50" x2="387.60" y2="265.40" stroke="#c8c8c8" stroke-width="2.2"/>
<line x1="384.60" y1="265.40" x2="387.60" y2="265.40" stroke="#8a8a8a" stroke-width="1"/>
<text x="380.40" y="268.30" font-size="8.2" text-anchor="end" font-weight="bold" fill="#000">0</text>
<line x1="384.60" y1="247.22" x2="387.60" y2="247.22" stroke="#8a8a8a" stroke-width="1"/>
<text x="380.40" y="250.12" font-size="8.2" text-anchor="end" font-weight="bold" fill="#000">10</text>
<line x1="384.60" y1="229.04" x2="387.60" y2="229.04" stroke="#8a8a8a" stroke-width="1"/>
<text x="380.40" y="231.94" font-size="8.2" text-anchor="end" font-weight="bold" fill="#000">20</text>
<line x1="384.60" y1="210.86" x2="387.60" y2="210.86" stroke="#8a8a8a" stroke-width="1"/>
<text x="380.40" y="213.76" font-size="8.2" text-anchor="end" font-weight="bold" fill="#000">30</text>
<line x1="384.60" y1="192.68" x2="387.60" y2="192.68" stroke="#8a8a8a" stroke-width="1"/>
<text x="380.40" y="195.58" font-size="8.2" text-anchor="end" font-weight="bold" fill="#000">40</text>
<line x1="384.60" y1="174.50" x2="387.60" y2="174.50" stroke="#8a8a8a" stroke-width="1"/>
<text x="380.40" y="177.40" font-size="8.2" text-anchor="end" font-weight="bold" fill="#000">50</text>
<line x1="387.60" y1="265.40" x2="491.30" y2="265.40" stroke="#8a8a8a" stroke-width="1"/>
<line x1="387.60" y1="265.40" x2="387.60" y2="267.40" stroke="#8a8a8a" stroke-width="1"/>
<line x1="408.34" y1="265.40" x2="408.34" y2="267.40" stroke="#8a8a8a" stroke-width="1"/>
<line x1="429.08" y1="265.40" x2="429.08" y2="267.40" stroke="#8a8a8a" stroke-width="1"/>
<line x1="449.82" y1="265.40" x2="449.82" y2="267.40" stroke="#8a8a8a" stroke-width="1"/>
<line x1="470.56" y1="265.40" x2="470.56" y2="267.40" stroke="#8a8a8a" stroke-width="1"/>
<line x1="491.30" y1="265.40" x2="491.30" y2="267.40" stroke="#8a8a8a" stroke-width="1"/>
<text x="387.60" y="277.60" font-size="7.7" text-anchor="middle" font-weight="bold" fill="#000">0</text>
<text x="408.34" y="277.60" font-size="7.7" text-anchor="middle" font-weight="bold" fill="#000">50</text>
<text x="429.08" y="277.60" font-size="7.7" text-anchor="middle" font-weight="bold" fill="#000">100</text>
<text x="449.82" y="277.60" font-size="7.7" text-anchor="middle" font-weight="bold" fill="#000">500</text>
<text x="470.56" y="277.60" font-size="7.7" text-anchor="middle" font-weight="bold" fill="#000">1000</text>
<text x="491.30" y="277.60" font-size="7.7" text-anchor="middle" font-weight="bold" fill="#000">5000</text>
<text x="448.20" y="292.60" font-size="11" text-anchor="middle" font-weight="bold" fill="#000">IL-6 (pg/mL)</text>
<text x="435.60" y="173.40" font-size="11" text-anchor="middle" font-weight="bold" fill="#000">Starvation</text>
<text x="367.20" y="218.50" font-size="11.2" text-anchor="middle" font-weight="bold" fill="#000" transform="rotate(-90 367.2 218.5)">% Apopotic cells</text>
<polyline points="387.60,201.77 408.34,233.95 429.08,235.04 449.82,241.77 470.56,236.86 491.30,243.04" fill="none" stroke="#3c3c3c" stroke-width="1.15"/>
<polyline points="387.60,193.95 408.34,224.86 429.08,239.22 449.82,245.95 470.56,245.95 491.30,244.86" fill="none" stroke="#8c8c8c" stroke-width="1.15"/>
<polyline points="387.60,205.41 408.34,218.68 429.08,226.49 449.82,238.13 470.56,233.22 491.30,236.13" fill="none" stroke="#000" stroke-width="1.15"/>
<polyline points="387.60,188.32 408.34,219.95 429.08,223.04 449.82,231.22 470.56,234.49 491.30,230.86" fill="none" stroke="#2a2a2a" stroke-width="1.15"/>
<line x1="387.60" y1="207.22" x2="387.60" y2="196.32" stroke="#333" stroke-width="0.7"/>
<line x1="386.30" y1="196.32" x2="388.90" y2="196.32" stroke="#333" stroke-width="0.7"/>
<line x1="386.30" y1="207.22" x2="388.90" y2="207.22" stroke="#333" stroke-width="0.7"/>
<rect x="385.70" y="199.87" width="3.80" height="3.80" fill="#808080" stroke="#5a5a5a" stroke-width="0.6"/>
<line x1="408.34" y1="235.77" x2="408.34" y2="232.13" stroke="#333" stroke-width="0.7"/>
<line x1="407.04" y1="232.13" x2="409.64" y2="232.13" stroke="#333" stroke-width="0.7"/>
<line x1="407.04" y1="235.77" x2="409.64" y2="235.77" stroke="#333" stroke-width="0.7"/>
<rect x="406.44" y="232.05" width="3.80" height="3.80" fill="#808080" stroke="#5a5a5a" stroke-width="0.6"/>
<line x1="429.08" y1="236.86" x2="429.08" y2="233.22" stroke="#333" stroke-width="0.7"/>
<line x1="427.78" y1="233.22" x2="430.38" y2="233.22" stroke="#333" stroke-width="0.7"/>
<line x1="427.78" y1="236.86" x2="430.38" y2="236.86" stroke="#333" stroke-width="0.7"/>
<rect x="427.18" y="233.14" width="3.80" height="3.80" fill="#808080" stroke="#5a5a5a" stroke-width="0.6"/>
<line x1="449.82" y1="243.58" x2="449.82" y2="239.95" stroke="#333" stroke-width="0.7"/>
<line x1="448.52" y1="239.95" x2="451.12" y2="239.95" stroke="#333" stroke-width="0.7"/>
<line x1="448.52" y1="243.58" x2="451.12" y2="243.58" stroke="#333" stroke-width="0.7"/>
<rect x="447.92" y="239.87" width="3.80" height="3.80" fill="#808080" stroke="#5a5a5a" stroke-width="0.6"/>
<line x1="470.56" y1="238.68" x2="470.56" y2="235.04" stroke="#333" stroke-width="0.7"/>
<line x1="469.26" y1="235.04" x2="471.86" y2="235.04" stroke="#333" stroke-width="0.7"/>
<line x1="469.26" y1="238.68" x2="471.86" y2="238.68" stroke="#333" stroke-width="0.7"/>
<rect x="468.66" y="234.96" width="3.80" height="3.80" fill="#808080" stroke="#5a5a5a" stroke-width="0.6"/>
<line x1="491.30" y1="244.86" x2="491.30" y2="241.22" stroke="#333" stroke-width="0.7"/>
<line x1="490.00" y1="241.22" x2="492.60" y2="241.22" stroke="#333" stroke-width="0.7"/>
<line x1="490.00" y1="244.86" x2="492.60" y2="244.86" stroke="#333" stroke-width="0.7"/>
<rect x="489.40" y="241.14" width="3.80" height="3.80" fill="#808080" stroke="#5a5a5a" stroke-width="0.6"/>
<line x1="387.60" y1="199.41" x2="387.60" y2="188.50" stroke="#333" stroke-width="0.7"/>
<line x1="386.30" y1="188.50" x2="388.90" y2="188.50" stroke="#333" stroke-width="0.7"/>
<line x1="386.30" y1="199.41" x2="388.90" y2="199.41" stroke="#333" stroke-width="0.7"/>
<rect x="385.50" y="191.85" width="4.20" height="4.20" fill="#fff" stroke="#222" stroke-width="0.85"/>
<line x1="408.34" y1="228.49" x2="408.34" y2="221.22" stroke="#333" stroke-width="0.7"/>
<line x1="407.04" y1="221.22" x2="409.64" y2="221.22" stroke="#333" stroke-width="0.7"/>
<line x1="407.04" y1="228.49" x2="409.64" y2="228.49" stroke="#333" stroke-width="0.7"/>
<rect x="406.24" y="222.76" width="4.20" height="4.20" fill="#fff" stroke="#222" stroke-width="0.85"/>
<line x1="429.08" y1="241.95" x2="429.08" y2="236.49" stroke="#333" stroke-width="0.7"/>
<line x1="427.78" y1="236.49" x2="430.38" y2="236.49" stroke="#333" stroke-width="0.7"/>
<line x1="427.78" y1="241.95" x2="430.38" y2="241.95" stroke="#333" stroke-width="0.7"/>
<rect x="426.98" y="237.12" width="4.20" height="4.20" fill="#fff" stroke="#222" stroke-width="0.85"/>
<line x1="449.82" y1="248.13" x2="449.82" y2="243.77" stroke="#333" stroke-width="0.7"/>
<line x1="448.52" y1="243.77" x2="451.12" y2="243.77" stroke="#333" stroke-width="0.7"/>
<line x1="448.52" y1="248.13" x2="451.12" y2="248.13" stroke="#333" stroke-width="0.7"/>
<rect x="447.72" y="243.85" width="4.20" height="4.20" fill="#fff" stroke="#222" stroke-width="0.85"/>
<line x1="470.56" y1="248.13" x2="470.56" y2="243.77" stroke="#333" stroke-width="0.7"/>
<line x1="469.26" y1="243.77" x2="471.86" y2="243.77" stroke="#333" stroke-width="0.7"/>
<line x1="469.26" y1="248.13" x2="471.86" y2="248.13" stroke="#333" stroke-width="0.7"/>
<rect x="468.46" y="243.85" width="4.20" height="4.20" fill="#fff" stroke="#222" stroke-width="0.85"/>
<line x1="491.30" y1="247.04" x2="491.30" y2="242.67" stroke="#333" stroke-width="0.7"/>
<line x1="490.00" y1="242.67" x2="492.60" y2="242.67" stroke="#333" stroke-width="0.7"/>
<line x1="490.00" y1="247.04" x2="492.60" y2="247.04" stroke="#333" stroke-width="0.7"/>
<rect x="489.20" y="242.76" width="4.20" height="4.20" fill="#fff" stroke="#222" stroke-width="0.85"/>
<line x1="387.60" y1="210.86" x2="387.60" y2="199.95" stroke="#333" stroke-width="0.7"/>
<line x1="386.30" y1="199.95" x2="388.90" y2="199.95" stroke="#333" stroke-width="0.7"/>
<line x1="386.30" y1="210.86" x2="388.90" y2="210.86" stroke="#333" stroke-width="0.7"/>
<path d="M387.60 203.21 L389.60 207.01 L385.60 207.01 Z" fill="#000" stroke="#000" stroke-width="0.5"/>
<line x1="408.34" y1="223.22" x2="408.34" y2="214.13" stroke="#333" stroke-width="0.7"/>
<line x1="407.04" y1="214.13" x2="409.64" y2="214.13" stroke="#333" stroke-width="0.7"/>
<line x1="407.04" y1="223.22" x2="409.64" y2="223.22" stroke="#333" stroke-width="0.7"/>
<path d="M408.34 216.48 L410.34 220.28 L406.34 220.28 Z" fill="#000" stroke="#000" stroke-width="0.5"/>
<line x1="429.08" y1="230.13" x2="429.08" y2="222.86" stroke="#333" stroke-width="0.7"/>
<line x1="427.78" y1="222.86" x2="430.38" y2="222.86" stroke="#333" stroke-width="0.7"/>
<line x1="427.78" y1="230.13" x2="430.38" y2="230.13" stroke="#333" stroke-width="0.7"/>
<path d="M429.08 224.29 L431.08 228.09 L427.08 228.09 Z" fill="#000" stroke="#000" stroke-width="0.5"/>
<line x1="449.82" y1="240.86" x2="449.82" y2="235.40" stroke="#333" stroke-width="0.7"/>
<line x1="448.52" y1="235.40" x2="451.12" y2="235.40" stroke="#333" stroke-width="0.7"/>
<line x1="448.52" y1="240.86" x2="451.12" y2="240.86" stroke="#333" stroke-width="0.7"/>
<path d="M449.82 235.93 L451.82 239.73 L447.82 239.73 Z" fill="#000" stroke="#000" stroke-width="0.5"/>
<line x1="470.56" y1="235.95" x2="470.56" y2="230.49" stroke="#333" stroke-width="0.7"/>
<line x1="469.26" y1="230.49" x2="471.86" y2="230.49" stroke="#333" stroke-width="0.7"/>
<line x1="469.26" y1="235.95" x2="471.86" y2="235.95" stroke="#333" stroke-width="0.7"/>
<path d="M470.56 231.02 L472.56 234.82 L468.56 234.82 Z" fill="#000" stroke="#000" stroke-width="0.5"/>
<line x1="491.30" y1="238.86" x2="491.30" y2="233.40" stroke="#333" stroke-width="0.7"/>
<line x1="490.00" y1="233.40" x2="492.60" y2="233.40" stroke="#333" stroke-width="0.7"/>
<line x1="490.00" y1="238.86" x2="492.60" y2="238.86" stroke="#333" stroke-width="0.7"/>
<path d="M491.30 233.93 L493.30 237.73 L489.30 237.73 Z" fill="#000" stroke="#000" stroke-width="0.5"/>
<line x1="387.60" y1="197.41" x2="387.60" y2="179.23" stroke="#333" stroke-width="0.7"/>
<line x1="386.30" y1="179.23" x2="388.90" y2="179.23" stroke="#333" stroke-width="0.7"/>
<line x1="386.30" y1="197.41" x2="388.90" y2="197.41" stroke="#333" stroke-width="0.7"/>
<path d="M387.60 186.12 L389.60 189.92 L385.60 189.92 Z" fill="#fff" stroke="#333" stroke-width="0.7"/>
<line x1="408.34" y1="224.49" x2="408.34" y2="215.40" stroke="#333" stroke-width="0.7"/>
<line x1="407.04" y1="215.40" x2="409.64" y2="215.40" stroke="#333" stroke-width="0.7"/>
<line x1="407.04" y1="224.49" x2="409.64" y2="224.49" stroke="#333" stroke-width="0.7"/>
<path d="M408.34 217.75 L410.34 221.55 L406.34 221.55 Z" fill="#fff" stroke="#333" stroke-width="0.7"/>
<line x1="429.08" y1="227.59" x2="429.08" y2="218.50" stroke="#333" stroke-width="0.7"/>
<line x1="427.78" y1="218.50" x2="430.38" y2="218.50" stroke="#333" stroke-width="0.7"/>
<line x1="427.78" y1="227.59" x2="430.38" y2="227.59" stroke="#333" stroke-width="0.7"/>
<path d="M429.08 220.84 L431.08 224.64 L427.08 224.64 Z" fill="#fff" stroke="#333" stroke-width="0.7"/>
<line x1="449.82" y1="235.22" x2="449.82" y2="227.22" stroke="#333" stroke-width="0.7"/>
<line x1="448.52" y1="227.22" x2="451.12" y2="227.22" stroke="#333" stroke-width="0.7"/>
<line x1="448.52" y1="235.22" x2="451.12" y2="235.22" stroke="#333" stroke-width="0.7"/>
<path d="M449.82 229.02 L451.82 232.82 L447.82 232.82 Z" fill="#fff" stroke="#333" stroke-width="0.7"/>
<line x1="470.56" y1="237.22" x2="470.56" y2="231.77" stroke="#333" stroke-width="0.7"/>
<line x1="469.26" y1="231.77" x2="471.86" y2="231.77" stroke="#333" stroke-width="0.7"/>
<line x1="469.26" y1="237.22" x2="471.86" y2="237.22" stroke="#333" stroke-width="0.7"/>
<path d="M470.56 232.29 L472.56 236.09 L468.56 236.09 Z" fill="#fff" stroke="#333" stroke-width="0.7"/>
<line x1="491.30" y1="234.86" x2="491.30" y2="226.86" stroke="#333" stroke-width="0.7"/>
<line x1="490.00" y1="226.86" x2="492.60" y2="226.86" stroke="#333" stroke-width="0.7"/>
<line x1="490.00" y1="234.86" x2="492.60" y2="234.86" stroke="#333" stroke-width="0.7"/>
<path d="M491.30 228.66 L493.30 232.46 L489.30 232.46 Z" fill="#fff" stroke="#333" stroke-width="0.7"/>
<line x1="437.00" y1="186.00" x2="456.40" y2="186.00" stroke="#3c3c3c" stroke-width="1.1"/>
<rect x="444.80" y="184.10" width="3.80" height="3.80" fill="#808080" stroke="#5a5a5a" stroke-width="0.6"/>
<text x="458.20" y="188.70" font-size="7.6" text-anchor="start" font-weight="bold" fill="#000">SP53</text>
<line x1="437.00" y1="195.20" x2="456.40" y2="195.20" stroke="#8c8c8c" stroke-width="1.1"/>
<rect x="444.60" y="193.10" width="4.20" height="4.20" fill="#fff" stroke="#222" stroke-width="0.85"/>
<text x="458.20" y="197.90" font-size="7.6" text-anchor="start" font-weight="bold" fill="#000">Granta 519</text>
<line x1="437.00" y1="204.40" x2="456.40" y2="204.40" stroke="#000" stroke-width="1.1"/>
<path d="M446.70 202.20 L448.70 206.00 L444.70 206.00 Z" fill="#000" stroke="#000" stroke-width="0.5"/>
<text x="458.20" y="207.10" font-size="7.6" text-anchor="start" font-weight="bold" fill="#000">Mino</text>
<line x1="437.00" y1="213.40" x2="456.40" y2="213.40" stroke="#2a2a2a" stroke-width="1.1"/>
<path d="M446.70 211.20 L448.70 215.00 L444.70 215.00 Z" fill="#fff" stroke="#333" stroke-width="0.7"/>
<text x="458.20" y="216.10" font-size="7.6" text-anchor="start" font-weight="bold" fill="#000">Jeko-1</text>
<text x="5.40" y="295.50" font-size="14" text-anchor="start" font-weight="bold" fill="#000">F</text>
<line x1="52.20" y1="300.00" x2="52.20" y2="416.20" stroke="#8a8a8a" stroke-width="1"/>
<line x1="49.20" y1="416.20" x2="52.20" y2="416.20" stroke="#8a8a8a" stroke-width="1"/>
<text x="44.30" y="419.30" font-size="9.2" text-anchor="end" font-weight="bold" fill="#000">0</text>
<line x1="49.20" y1="392.96" x2="52.20" y2="392.96" stroke="#8a8a8a" stroke-width="1"/>
<text x="44.30" y="396.06" font-size="9.2" text-anchor="end" font-weight="bold" fill="#000">20</text>
<line x1="49.20" y1="369.72" x2="52.20" y2="369.72" stroke="#8a8a8a" stroke-width="1"/>
<text x="44.30" y="372.82" font-size="9.2" text-anchor="end" font-weight="bold" fill="#000">40</text>
<line x1="49.20" y1="346.48" x2="52.20" y2="346.48" stroke="#8a8a8a" stroke-width="1"/>
<text x="44.30" y="349.58" font-size="9.2" text-anchor="end" font-weight="bold" fill="#000">60</text>
<line x1="49.20" y1="323.24" x2="52.20" y2="323.24" stroke="#8a8a8a" stroke-width="1"/>
<text x="44.30" y="326.34" font-size="9.2" text-anchor="end" font-weight="bold" fill="#000">80</text>
<line x1="49.20" y1="300.00" x2="52.20" y2="300.00" stroke="#8a8a8a" stroke-width="1"/>
<text x="44.30" y="303.10" font-size="9.2" text-anchor="end" font-weight="bold" fill="#000">100</text>
<text x="27.80" y="352.00" font-size="11" text-anchor="middle" font-weight="bold" fill="#000" transform="rotate(-90 27.8 352.0)">% Apoptotic cells</text>
<line x1="52.20" y1="416.20" x2="464.50" y2="416.20" stroke="#8a8a8a" stroke-width="1"/>
<line x1="57.57" y1="403.46" x2="57.57" y2="402.30" stroke="#000" stroke-width="0.85"/>
<line x1="55.87" y1="402.30" x2="59.27" y2="402.30" stroke="#000" stroke-width="0.85"/>
<rect x="55.30" y="403.46" width="4.55" height="12.74" fill="#ffffff" stroke="#000" stroke-width="0.7"/>
<line x1="62.12" y1="398.49" x2="62.12" y2="397.10" stroke="#000" stroke-width="0.85"/>
<line x1="60.42" y1="397.10" x2="63.82" y2="397.10" stroke="#000" stroke-width="0.85"/>
<rect x="59.85" y="398.49" width="4.55" height="17.71" fill="#4a4a4a" stroke="#000" stroke-width="0.7"/>
<line x1="66.67" y1="399.53" x2="66.67" y2="398.38" stroke="#000" stroke-width="0.85"/>
<line x1="64.97" y1="398.38" x2="68.38" y2="398.38" stroke="#000" stroke-width="0.85"/>
<rect x="64.40" y="399.53" width="4.55" height="16.67" fill="url(#dots)" stroke="#000" stroke-width="0.7"/>
<line x1="71.22" y1="400.34" x2="71.22" y2="399.18" stroke="#000" stroke-width="0.85"/>
<line x1="69.52" y1="399.18" x2="72.92" y2="399.18" stroke="#000" stroke-width="0.85"/>
<rect x="68.95" y="400.34" width="4.55" height="15.86" fill="url(#hatch)" stroke="#000" stroke-width="0.7"/>
<line x1="75.78" y1="404.61" x2="75.78" y2="403.69" stroke="#000" stroke-width="0.85"/>
<line x1="74.08" y1="403.69" x2="77.48" y2="403.69" stroke="#000" stroke-width="0.85"/>
<rect x="73.50" y="404.61" width="4.55" height="11.59" fill="#7f7f7f" stroke="#000" stroke-width="0.7"/>
<line x1="80.33" y1="394.22" x2="80.33" y2="392.14" stroke="#000" stroke-width="0.85"/>
<line x1="78.62" y1="392.14" x2="82.03" y2="392.14" stroke="#000" stroke-width="0.85"/>
<rect x="78.05" y="394.22" width="4.55" height="21.98" fill="#d4d4d4" stroke="#000" stroke-width="0.7"/>
<line x1="84.88" y1="391.21" x2="84.88" y2="388.33" stroke="#000" stroke-width="0.85"/>
<line x1="83.17" y1="388.33" x2="86.58" y2="388.33" stroke="#000" stroke-width="0.85"/>
<rect x="82.60" y="391.21" width="4.55" height="24.99" fill="#000000" stroke="#000" stroke-width="0.7"/>
<line x1="94.96" y1="407.73" x2="94.96" y2="406.81" stroke="#000" stroke-width="0.85"/>
<line x1="93.26" y1="406.81" x2="96.66" y2="406.81" stroke="#000" stroke-width="0.85"/>
<rect x="92.68" y="407.73" width="4.55" height="8.47" fill="#ffffff" stroke="#000" stroke-width="0.7"/>
<line x1="99.51" y1="403.46" x2="99.51" y2="402.30" stroke="#000" stroke-width="0.85"/>
<line x1="97.81" y1="402.30" x2="101.21" y2="402.30" stroke="#000" stroke-width="0.85"/>
<rect x="97.23" y="403.46" width="4.55" height="12.74" fill="#4a4a4a" stroke="#000" stroke-width="0.7"/>
<line x1="104.06" y1="408.89" x2="104.06" y2="408.19" stroke="#000" stroke-width="0.85"/>
<line x1="102.36" y1="408.19" x2="105.76" y2="408.19" stroke="#000" stroke-width="0.85"/>
<rect x="101.78" y="408.89" width="4.55" height="7.31" fill="url(#dots)" stroke="#000" stroke-width="0.7"/>
<line x1="108.61" y1="404.84" x2="108.61" y2="403.69" stroke="#000" stroke-width="0.85"/>
<line x1="106.91" y1="403.69" x2="110.31" y2="403.69" stroke="#000" stroke-width="0.85"/>
<rect x="106.33" y="404.84" width="4.55" height="11.36" fill="url(#hatch)" stroke="#000" stroke-width="0.7"/>
<line x1="113.16" y1="405.65" x2="113.16" y2="404.96" stroke="#000" stroke-width="0.85"/>
<line x1="111.46" y1="404.96" x2="114.86" y2="404.96" stroke="#000" stroke-width="0.85"/>
<rect x="110.88" y="405.65" width="4.55" height="10.55" fill="#7f7f7f" stroke="#000" stroke-width="0.7"/>
<line x1="117.71" y1="394.56" x2="117.71" y2="392.48" stroke="#000" stroke-width="0.85"/>
<line x1="116.01" y1="392.48" x2="119.41" y2="392.48" stroke="#000" stroke-width="0.85"/>
<rect x="115.43" y="394.56" width="4.55" height="21.64" fill="#d4d4d4" stroke="#000" stroke-width="0.7"/>
<line x1="122.26" y1="395.37" x2="122.26" y2="393.64" stroke="#000" stroke-width="0.85"/>
<line x1="120.56" y1="393.64" x2="123.96" y2="393.64" stroke="#000" stroke-width="0.85"/>
<rect x="119.98" y="395.37" width="4.55" height="20.83" fill="#000000" stroke="#000" stroke-width="0.7"/>
<line x1="132.34" y1="364.88" x2="132.34" y2="359.45" stroke="#000" stroke-width="0.85"/>
<line x1="130.64" y1="359.45" x2="134.03" y2="359.45" stroke="#000" stroke-width="0.85"/>
<rect x="130.06" y="364.88" width="4.55" height="51.32" fill="#ffffff" stroke="#000" stroke-width="0.7"/>
<line x1="136.89" y1="362.11" x2="136.89" y2="357.03" stroke="#000" stroke-width="0.85"/>
<line x1="135.19" y1="357.03" x2="138.59" y2="357.03" stroke="#000" stroke-width="0.85"/>
<rect x="134.61" y="362.11" width="4.55" height="54.09" fill="#4a4a4a" stroke="#000" stroke-width="0.7"/>
<line x1="141.44" y1="343.86" x2="141.44" y2="336.24" stroke="#000" stroke-width="0.85"/>
<line x1="139.74" y1="336.24" x2="143.13" y2="336.24" stroke="#000" stroke-width="0.85"/>
<rect x="139.16" y="343.86" width="4.55" height="72.34" fill="url(#dots)" stroke="#000" stroke-width="0.7"/>
<line x1="145.99" y1="358.53" x2="145.99" y2="353.45" stroke="#000" stroke-width="0.85"/>
<line x1="144.29" y1="353.45" x2="147.69" y2="353.45" stroke="#000" stroke-width="0.85"/>
<rect x="143.71" y="358.53" width="4.55" height="57.67" fill="url(#hatch)" stroke="#000" stroke-width="0.7"/>
<line x1="150.53" y1="377.70" x2="150.53" y2="374.35" stroke="#000" stroke-width="0.85"/>
<line x1="148.84" y1="374.35" x2="152.23" y2="374.35" stroke="#000" stroke-width="0.85"/>
<rect x="148.26" y="377.70" width="4.55" height="38.50" fill="#7f7f7f" stroke="#000" stroke-width="0.7"/>
<line x1="155.09" y1="343.28" x2="155.09" y2="335.77" stroke="#000" stroke-width="0.85"/>
<line x1="153.39" y1="335.77" x2="156.78" y2="335.77" stroke="#000" stroke-width="0.85"/>
<rect x="152.81" y="343.28" width="4.55" height="72.92" fill="#d4d4d4" stroke="#000" stroke-width="0.7"/>
<line x1="159.64" y1="362.11" x2="159.64" y2="356.80" stroke="#000" stroke-width="0.85"/>
<line x1="157.94" y1="356.80" x2="161.34" y2="356.80" stroke="#000" stroke-width="0.85"/>
<rect x="157.36" y="362.11" width="4.55" height="54.09" fill="#000000" stroke="#000" stroke-width="0.7"/>
<line x1="169.72" y1="401.84" x2="169.72" y2="400.69" stroke="#000" stroke-width="0.85"/>
<line x1="168.02" y1="400.69" x2="171.41" y2="400.69" stroke="#000" stroke-width="0.85"/>
<rect x="167.44" y="401.84" width="4.55" height="14.36" fill="#ffffff" stroke="#000" stroke-width="0.7"/>
<line x1="174.27" y1="396.06" x2="174.27" y2="394.33" stroke="#000" stroke-width="0.85"/>
<line x1="172.57" y1="394.33" x2="175.97" y2="394.33" stroke="#000" stroke-width="0.85"/>
<rect x="171.99" y="396.06" width="4.55" height="20.14" fill="#4a4a4a" stroke="#000" stroke-width="0.7"/>
<line x1="178.81" y1="405.77" x2="178.81" y2="404.61" stroke="#000" stroke-width="0.85"/>
<line x1="177.12" y1="404.61" x2="180.51" y2="404.61" stroke="#000" stroke-width="0.85"/>
<rect x="176.54" y="405.77" width="4.55" height="10.43" fill="url(#dots)" stroke="#000" stroke-width="0.7"/>
<line x1="183.37" y1="394.45" x2="183.37" y2="392.72" stroke="#000" stroke-width="0.85"/>
<line x1="181.67" y1="392.72" x2="185.06" y2="392.72" stroke="#000" stroke-width="0.85"/>
<rect x="181.09" y="394.45" width="4.55" height="21.75" fill="url(#hatch)" stroke="#000" stroke-width="0.7"/>
<line x1="187.91" y1="399.18" x2="187.91" y2="398.03" stroke="#000" stroke-width="0.85"/>
<line x1="186.22" y1="398.03" x2="189.61" y2="398.03" stroke="#000" stroke-width="0.85"/>
<rect x="185.64" y="399.18" width="4.55" height="17.02" fill="#7f7f7f" stroke="#000" stroke-width="0.7"/>
<line x1="192.47" y1="388.67" x2="192.47" y2="386.36" stroke="#000" stroke-width="0.85"/>
<line x1="190.77" y1="386.36" x2="194.16" y2="386.36" stroke="#000" stroke-width="0.85"/>
<rect x="190.19" y="388.67" width="4.55" height="27.53" fill="#d4d4d4" stroke="#000" stroke-width="0.7"/>
<line x1="197.02" y1="389.94" x2="197.02" y2="387.63" stroke="#000" stroke-width="0.85"/>
<line x1="195.32" y1="387.63" x2="198.72" y2="387.63" stroke="#000" stroke-width="0.85"/>
<rect x="194.74" y="389.94" width="4.55" height="26.26" fill="#000000" stroke="#000" stroke-width="0.7"/>
<line x1="207.09" y1="358.99" x2="207.09" y2="353.45" stroke="#000" stroke-width="0.85"/>
<line x1="205.40" y1="353.45" x2="208.79" y2="353.45" stroke="#000" stroke-width="0.85"/>
<rect x="204.82" y="358.99" width="4.55" height="57.21" fill="#ffffff" stroke="#000" stroke-width="0.7"/>
<line x1="211.65" y1="377.93" x2="211.65" y2="374.58" stroke="#000" stroke-width="0.85"/>
<line x1="209.95" y1="374.58" x2="213.34" y2="374.58" stroke="#000" stroke-width="0.85"/>
<rect x="209.37" y="377.93" width="4.55" height="38.27" fill="#4a4a4a" stroke="#000" stroke-width="0.7"/>
<line x1="216.19" y1="335.54" x2="216.19" y2="327.11" stroke="#000" stroke-width="0.85"/>
<line x1="214.50" y1="327.11" x2="217.89" y2="327.11" stroke="#000" stroke-width="0.85"/>
<rect x="213.92" y="335.54" width="4.55" height="80.66" fill="url(#dots)" stroke="#000" stroke-width="0.7"/>
<line x1="220.75" y1="359.45" x2="220.75" y2="353.91" stroke="#000" stroke-width="0.85"/>
<line x1="219.05" y1="353.91" x2="222.44" y2="353.91" stroke="#000" stroke-width="0.85"/>
<rect x="218.47" y="359.45" width="4.55" height="56.75" fill="url(#hatch)" stroke="#000" stroke-width="0.7"/>
<line x1="225.29" y1="377.93" x2="225.29" y2="376.08" stroke="#000" stroke-width="0.85"/>
<line x1="223.59" y1="376.08" x2="226.99" y2="376.08" stroke="#000" stroke-width="0.85"/>
<rect x="223.02" y="377.93" width="4.55" height="38.27" fill="#7f7f7f" stroke="#000" stroke-width="0.7"/>
<line x1="229.84" y1="352.29" x2="229.84" y2="346.28" stroke="#000" stroke-width="0.85"/>
<line x1="228.15" y1="346.28" x2="231.54" y2="346.28" stroke="#000" stroke-width="0.85"/>
<rect x="227.57" y="352.29" width="4.55" height="63.91" fill="#d4d4d4" stroke="#000" stroke-width="0.7"/>
<line x1="234.40" y1="363.49" x2="234.40" y2="357.95" stroke="#000" stroke-width="0.85"/>
<line x1="232.70" y1="357.95" x2="236.09" y2="357.95" stroke="#000" stroke-width="0.85"/>
<rect x="232.12" y="363.49" width="4.55" height="52.71" fill="#000000" stroke="#000" stroke-width="0.7"/>
<line x1="244.47" y1="354.49" x2="244.47" y2="348.48" stroke="#000" stroke-width="0.85"/>
<line x1="242.78" y1="348.48" x2="246.17" y2="348.48" stroke="#000" stroke-width="0.85"/>
<rect x="242.20" y="354.49" width="4.55" height="61.72" fill="#ffffff" stroke="#000" stroke-width="0.7"/>
<line x1="249.03" y1="381.28" x2="249.03" y2="379.66" stroke="#000" stroke-width="0.85"/>
<line x1="247.33" y1="379.66" x2="250.72" y2="379.66" stroke="#000" stroke-width="0.85"/>
<rect x="246.75" y="381.28" width="4.55" height="34.92" fill="#4a4a4a" stroke="#000" stroke-width="0.7"/>
<line x1="253.57" y1="345.01" x2="253.57" y2="337.85" stroke="#000" stroke-width="0.85"/>
<line x1="251.88" y1="337.85" x2="255.27" y2="337.85" stroke="#000" stroke-width="0.85"/>
<rect x="251.30" y="345.01" width="4.55" height="71.19" fill="url(#dots)" stroke="#000" stroke-width="0.7"/>
<line x1="258.12" y1="358.53" x2="258.12" y2="353.45" stroke="#000" stroke-width="0.85"/>
<line x1="256.43" y1="353.45" x2="259.82" y2="353.45" stroke="#000" stroke-width="0.85"/>
<rect x="255.85" y="358.53" width="4.55" height="57.67" fill="url(#hatch)" stroke="#000" stroke-width="0.7"/>
<line x1="262.67" y1="377.93" x2="262.67" y2="374.58" stroke="#000" stroke-width="0.85"/>
<line x1="260.97" y1="374.58" x2="264.37" y2="374.58" stroke="#000" stroke-width="0.85"/>
<rect x="260.40" y="377.93" width="4.55" height="38.27" fill="#7f7f7f" stroke="#000" stroke-width="0.7"/>
<line x1="267.22" y1="353.45" x2="267.22" y2="346.28" stroke="#000" stroke-width="0.85"/>
<line x1="265.52" y1="346.28" x2="268.92" y2="346.28" stroke="#000" stroke-width="0.85"/>
<rect x="264.95" y="353.45" width="4.55" height="62.75" fill="#d4d4d4" stroke="#000" stroke-width="0.7"/>
<line x1="271.77" y1="365.69" x2="271.77" y2="360.84" stroke="#000" stroke-width="0.85"/>
<line x1="270.07" y1="360.84" x2="273.47" y2="360.84" stroke="#000" stroke-width="0.85"/>
<rect x="269.50" y="365.69" width="4.55" height="50.51" fill="#000000" stroke="#000" stroke-width="0.7"/>
<line x1="281.86" y1="343.40" x2="281.86" y2="336.58" stroke="#000" stroke-width="0.85"/>
<line x1="280.16" y1="336.58" x2="283.56" y2="336.58" stroke="#000" stroke-width="0.85"/>
<rect x="279.58" y="343.40" width="4.55" height="72.80" fill="#ffffff" stroke="#000" stroke-width="0.7"/>
<line x1="286.41" y1="322.14" x2="286.41" y2="312.44" stroke="#000" stroke-width="0.85"/>
<line x1="284.71" y1="312.44" x2="288.11" y2="312.44" stroke="#000" stroke-width="0.85"/>
<rect x="284.13" y="322.14" width="4.55" height="94.06" fill="#4a4a4a" stroke="#000" stroke-width="0.7"/>
<line x1="290.96" y1="324.22" x2="290.96" y2="315.45" stroke="#000" stroke-width="0.85"/>
<line x1="289.26" y1="315.45" x2="292.66" y2="315.45" stroke="#000" stroke-width="0.85"/>
<rect x="288.68" y="324.22" width="4.55" height="91.98" fill="url(#dots)" stroke="#000" stroke-width="0.7"/>
<line x1="295.50" y1="344.55" x2="295.50" y2="337.85" stroke="#000" stroke-width="0.85"/>
<line x1="293.81" y1="337.85" x2="297.20" y2="337.85" stroke="#000" stroke-width="0.85"/>
<rect x="293.23" y="344.55" width="4.55" height="71.65" fill="url(#hatch)" stroke="#000" stroke-width="0.7"/>
<line x1="300.06" y1="363.72" x2="300.06" y2="358.99" stroke="#000" stroke-width="0.85"/>
<line x1="298.36" y1="358.99" x2="301.75" y2="358.99" stroke="#000" stroke-width="0.85"/>
<rect x="297.78" y="363.72" width="4.55" height="52.48" fill="#7f7f7f" stroke="#000" stroke-width="0.7"/>
<line x1="304.61" y1="338.20" x2="304.61" y2="330.81" stroke="#000" stroke-width="0.85"/>
<line x1="302.91" y1="330.81" x2="306.31" y2="330.81" stroke="#000" stroke-width="0.85"/>
<rect x="302.33" y="338.20" width="4.55" height="78.00" fill="#d4d4d4" stroke="#000" stroke-width="0.7"/>
<line x1="309.16" y1="360.49" x2="309.16" y2="354.49" stroke="#000" stroke-width="0.85"/>
<line x1="307.46" y1="354.49" x2="310.86" y2="354.49" stroke="#000" stroke-width="0.85"/>
<rect x="306.88" y="360.49" width="4.55" height="55.71" fill="#000000" stroke="#000" stroke-width="0.7"/>
<line x1="319.24" y1="403.23" x2="319.24" y2="402.07" stroke="#000" stroke-width="0.85"/>
<line x1="317.54" y1="402.07" x2="320.94" y2="402.07" stroke="#000" stroke-width="0.85"/>
<rect x="316.96" y="403.23" width="4.55" height="12.97" fill="#ffffff" stroke="#000" stroke-width="0.7"/>
<line x1="323.79" y1="399.99" x2="323.79" y2="398.84" stroke="#000" stroke-width="0.85"/>
<line x1="322.09" y1="398.84" x2="325.49" y2="398.84" stroke="#000" stroke-width="0.85"/>
<rect x="321.51" y="399.99" width="4.55" height="16.21" fill="#4a4a4a" stroke="#000" stroke-width="0.7"/>
<line x1="328.34" y1="400.57" x2="328.34" y2="399.41" stroke="#000" stroke-width="0.85"/>
<line x1="326.64" y1="399.41" x2="330.04" y2="399.41" stroke="#000" stroke-width="0.85"/>
<rect x="326.06" y="400.57" width="4.55" height="15.63" fill="url(#dots)" stroke="#000" stroke-width="0.7"/>
<line x1="332.88" y1="401.84" x2="332.88" y2="400.69" stroke="#000" stroke-width="0.85"/>
<line x1="331.19" y1="400.69" x2="334.58" y2="400.69" stroke="#000" stroke-width="0.85"/>
<rect x="330.61" y="401.84" width="4.55" height="14.36" fill="url(#hatch)" stroke="#000" stroke-width="0.7"/>
<line x1="337.44" y1="403.69" x2="337.44" y2="402.76" stroke="#000" stroke-width="0.85"/>
<line x1="335.74" y1="402.76" x2="339.13" y2="402.76" stroke="#000" stroke-width="0.85"/>
<rect x="335.16" y="403.69" width="4.55" height="12.51" fill="#7f7f7f" stroke="#000" stroke-width="0.7"/>
<line x1="341.99" y1="393.99" x2="341.99" y2="392.25" stroke="#000" stroke-width="0.85"/>
<line x1="340.29" y1="392.25" x2="343.69" y2="392.25" stroke="#000" stroke-width="0.85"/>
<rect x="339.71" y="393.99" width="4.55" height="22.21" fill="#d4d4d4" stroke="#000" stroke-width="0.7"/>
<line x1="346.54" y1="392.14" x2="346.54" y2="390.41" stroke="#000" stroke-width="0.85"/>
<line x1="344.84" y1="390.41" x2="348.24" y2="390.41" stroke="#000" stroke-width="0.85"/>
<rect x="344.26" y="392.14" width="4.55" height="24.06" fill="#000000" stroke="#000" stroke-width="0.7"/>
<line x1="356.62" y1="394.91" x2="356.62" y2="393.18" stroke="#000" stroke-width="0.85"/>
<line x1="354.92" y1="393.18" x2="358.31" y2="393.18" stroke="#000" stroke-width="0.85"/>
<rect x="354.34" y="394.91" width="4.55" height="21.29" fill="#ffffff" stroke="#000" stroke-width="0.7"/>
<line x1="361.17" y1="395.83" x2="361.17" y2="394.10" stroke="#000" stroke-width="0.85"/>
<line x1="359.47" y1="394.10" x2="362.87" y2="394.10" stroke="#000" stroke-width="0.85"/>
<rect x="358.89" y="395.83" width="4.55" height="20.37" fill="#4a4a4a" stroke="#000" stroke-width="0.7"/>
<line x1="365.72" y1="394.91" x2="365.72" y2="393.18" stroke="#000" stroke-width="0.85"/>
<line x1="364.02" y1="393.18" x2="367.42" y2="393.18" stroke="#000" stroke-width="0.85"/>
<rect x="363.44" y="394.91" width="4.55" height="21.29" fill="url(#dots)" stroke="#000" stroke-width="0.7"/>
<line x1="370.26" y1="393.06" x2="370.26" y2="391.33" stroke="#000" stroke-width="0.85"/>
<line x1="368.56" y1="391.33" x2="371.96" y2="391.33" stroke="#000" stroke-width="0.85"/>
<rect x="367.99" y="393.06" width="4.55" height="23.14" fill="url(#hatch)" stroke="#000" stroke-width="0.7"/>
<line x1="374.81" y1="399.99" x2="374.81" y2="398.84" stroke="#000" stroke-width="0.85"/>
<line x1="373.12" y1="398.84" x2="376.51" y2="398.84" stroke="#000" stroke-width="0.85"/>
<rect x="372.54" y="399.99" width="4.55" height="16.21" fill="#7f7f7f" stroke="#000" stroke-width="0.7"/>
<line x1="379.37" y1="382.67" x2="379.37" y2="379.78" stroke="#000" stroke-width="0.85"/>
<line x1="377.67" y1="379.78" x2="381.06" y2="379.78" stroke="#000" stroke-width="0.85"/>
<rect x="377.09" y="382.67" width="4.55" height="33.53" fill="#d4d4d4" stroke="#000" stroke-width="0.7"/>
<line x1="383.92" y1="386.25" x2="383.92" y2="383.94" stroke="#000" stroke-width="0.85"/>
<line x1="382.22" y1="383.94" x2="385.62" y2="383.94" stroke="#000" stroke-width="0.85"/>
<rect x="381.64" y="386.25" width="4.55" height="29.95" fill="#000000" stroke="#000" stroke-width="0.7"/>
<line x1="394.00" y1="395.83" x2="394.00" y2="394.10" stroke="#000" stroke-width="0.85"/>
<line x1="392.30" y1="394.10" x2="395.69" y2="394.10" stroke="#000" stroke-width="0.85"/>
<rect x="391.72" y="395.83" width="4.55" height="20.37" fill="#ffffff" stroke="#000" stroke-width="0.7"/>
<line x1="398.55" y1="397.22" x2="398.55" y2="395.49" stroke="#000" stroke-width="0.85"/>
<line x1="396.85" y1="395.49" x2="400.25" y2="395.49" stroke="#000" stroke-width="0.85"/>
<rect x="396.27" y="397.22" width="4.55" height="18.98" fill="#4a4a4a" stroke="#000" stroke-width="0.7"/>
<line x1="403.10" y1="395.83" x2="403.10" y2="394.10" stroke="#000" stroke-width="0.85"/>
<line x1="401.40" y1="394.10" x2="404.80" y2="394.10" stroke="#000" stroke-width="0.85"/>
<rect x="400.82" y="395.83" width="4.55" height="20.37" fill="url(#dots)" stroke="#000" stroke-width="0.7"/>
<line x1="407.64" y1="394.22" x2="407.64" y2="391.91" stroke="#000" stroke-width="0.85"/>
<line x1="405.94" y1="391.91" x2="409.34" y2="391.91" stroke="#000" stroke-width="0.85"/>
<rect x="405.37" y="394.22" width="4.55" height="21.98" fill="url(#hatch)" stroke="#000" stroke-width="0.7"/>
<line x1="412.19" y1="399.53" x2="412.19" y2="398.38" stroke="#000" stroke-width="0.85"/>
<line x1="410.50" y1="398.38" x2="413.89" y2="398.38" stroke="#000" stroke-width="0.85"/>
<rect x="409.92" y="399.53" width="4.55" height="16.67" fill="#7f7f7f" stroke="#000" stroke-width="0.7"/>
<line x1="416.75" y1="384.28" x2="416.75" y2="381.40" stroke="#000" stroke-width="0.85"/>
<line x1="415.05" y1="381.40" x2="418.44" y2="381.40" stroke="#000" stroke-width="0.85"/>
<rect x="414.47" y="384.28" width="4.55" height="31.92" fill="#d4d4d4" stroke="#000" stroke-width="0.7"/>
<line x1="421.30" y1="386.25" x2="421.30" y2="383.94" stroke="#000" stroke-width="0.85"/>
<line x1="419.60" y1="383.94" x2="423.00" y2="383.94" stroke="#000" stroke-width="0.85"/>
<rect x="419.02" y="386.25" width="4.55" height="29.95" fill="#000000" stroke="#000" stroke-width="0.7"/>
<line x1="431.38" y1="393.06" x2="431.38" y2="391.33" stroke="#000" stroke-width="0.85"/>
<line x1="429.68" y1="391.33" x2="433.07" y2="391.33" stroke="#000" stroke-width="0.85"/>
<rect x="429.10" y="393.06" width="4.55" height="23.14" fill="#ffffff" stroke="#000" stroke-width="0.7"/>
<line x1="435.93" y1="389.60" x2="435.93" y2="387.86" stroke="#000" stroke-width="0.85"/>
<line x1="434.23" y1="387.86" x2="437.62" y2="387.86" stroke="#000" stroke-width="0.85"/>
<rect x="433.65" y="389.60" width="4.55" height="26.60" fill="#4a4a4a" stroke="#000" stroke-width="0.7"/>
<line x1="440.48" y1="387.29" x2="440.48" y2="384.98" stroke="#000" stroke-width="0.85"/>
<line x1="438.78" y1="384.98" x2="442.18" y2="384.98" stroke="#000" stroke-width="0.85"/>
<rect x="438.20" y="387.29" width="4.55" height="28.91" fill="url(#dots)" stroke="#000" stroke-width="0.7"/>
<line x1="445.02" y1="388.90" x2="445.02" y2="386.59" stroke="#000" stroke-width="0.85"/>
<line x1="443.32" y1="386.59" x2="446.72" y2="386.59" stroke="#000" stroke-width="0.85"/>
<rect x="442.75" y="388.90" width="4.55" height="27.30" fill="url(#hatch)" stroke="#000" stroke-width="0.7"/>
<line x1="449.57" y1="398.14" x2="449.57" y2="396.99" stroke="#000" stroke-width="0.85"/>
<line x1="447.88" y1="396.99" x2="451.27" y2="396.99" stroke="#000" stroke-width="0.85"/>
<rect x="447.30" y="398.14" width="4.55" height="18.06" fill="#7f7f7f" stroke="#000" stroke-width="0.7"/>
<line x1="454.12" y1="381.05" x2="454.12" y2="378.16" stroke="#000" stroke-width="0.85"/>
<line x1="452.43" y1="378.16" x2="455.82" y2="378.16" stroke="#000" stroke-width="0.85"/>
<rect x="451.85" y="381.05" width="4.55" height="35.15" fill="#d4d4d4" stroke="#000" stroke-width="0.7"/>
<line x1="458.68" y1="380.47" x2="458.68" y2="377.58" stroke="#000" stroke-width="0.85"/>
<line x1="456.98" y1="377.58" x2="460.38" y2="377.58" stroke="#000" stroke-width="0.85"/>
<rect x="456.40" y="380.47" width="4.55" height="35.73" fill="#000000" stroke="#000" stroke-width="0.7"/>
<path d="M55.5 379.2 V375.1 H121.9 V379.2" fill="none" stroke="#444" stroke-width="0.9"/>
<text x="86.60" y="373.60" font-size="11" text-anchor="middle" font-weight="bold" fill="#000">*</text>
<path d="M164.7 323.7 V319.7 H232.4 V323.7" fill="none" stroke="#444" stroke-width="0.9"/>
<text x="196.40" y="318.00" font-size="11" text-anchor="middle" font-weight="bold" fill="#000">*</text>
<rect x="326.00" y="313.70" width="3.80" height="3.80" fill="#ffffff" stroke="#000" stroke-width="0.7"/>
<text x="330.90" y="318.20" font-size="7.3" text-anchor="start" font-weight="bold" fill="#000">Mino</text>
<rect x="326.00" y="322.90" width="3.80" height="3.80" fill="#4a4a4a" stroke="#000" stroke-width="0.7"/>
<text x="330.90" y="327.40" font-size="7.3" text-anchor="start" font-weight="bold" fill="#000">Jeko-1</text>
<rect x="326.00" y="332.10" width="3.80" height="3.80" fill="url(#dots)" stroke="#000" stroke-width="0.7"/>
<text x="330.90" y="336.60" font-size="7.3" text-anchor="start" font-weight="bold" fill="#000">SP53</text>
<rect x="326.00" y="341.30" width="3.80" height="3.80" fill="url(#hatch)" stroke="#000" stroke-width="0.7"/>
<text x="330.90" y="345.80" font-size="7.3" text-anchor="start" font-weight="bold" fill="#000">Granta 519</text>
<rect x="326.00" y="350.50" width="3.80" height="3.80" fill="#7f7f7f" stroke="#000" stroke-width="0.7"/>
<text x="330.90" y="355.00" font-size="7.3" text-anchor="start" font-weight="bold" fill="#000">PT1</text>
<rect x="326.00" y="359.70" width="3.80" height="3.80" fill="#d4d4d4" stroke="#000" stroke-width="0.7"/>
<text x="330.90" y="364.20" font-size="7.3" text-anchor="start" font-weight="bold" fill="#000">PT2</text>
<rect x="326.00" y="368.90" width="3.80" height="3.80" fill="#000000" stroke="#000" stroke-width="0.7"/>
<text x="330.90" y="373.40" font-size="7.3" text-anchor="start" font-weight="bold" fill="#000">PT3</text>
<text x="55.00" y="430.60" font-size="10" text-anchor="end" font-weight="bold" fill="#000">IL-6</text>
<text x="78.20" y="429.60" font-size="9.5" text-anchor="end" font-weight="bold" fill="#000">-</text>
<text x="113.70" y="430.60" font-size="9.5" text-anchor="end" font-weight="bold" fill="#000">+</text>
<text x="153.10" y="429.60" font-size="9.5" text-anchor="end" font-weight="bold" fill="#000">-</text>
<text x="188.70" y="430.60" font-size="9.5" text-anchor="end" font-weight="bold" fill="#000">+</text>
<text x="230.10" y="430.60" font-size="9.5" text-anchor="end" font-weight="bold" fill="#000">+</text>
<text x="266.00" y="430.60" font-size="9.5" text-anchor="end" font-weight="bold" fill="#000">+</text>
<text x="301.20" y="430.60" font-size="9.5" text-anchor="end" font-weight="bold" fill="#000">+</text>
<text x="342.90" y="429.60" font-size="9.5" text-anchor="end" font-weight="bold" fill="#000">-</text>
<text x="378.50" y="429.60" font-size="9.5" text-anchor="end" font-weight="bold" fill="#000">-</text>
<text x="414.10" y="429.60" font-size="9.5" text-anchor="end" font-weight="bold" fill="#000">-</text>
<text x="455.30" y="429.60" font-size="9.5" text-anchor="end" font-weight="bold" fill="#000">-</text>
<text x="55.00" y="445.60" font-size="10" text-anchor="end" font-weight="bold" fill="#000">BTZ</text>
<text x="78.20" y="444.50" font-size="9.5" text-anchor="end" font-weight="bold" fill="#000">-</text>
<text x="113.70" y="444.50" font-size="9.5" text-anchor="end" font-weight="bold" fill="#000">-</text>
<text x="153.10" y="445.50" font-size="9.5" text-anchor="end" font-weight="bold" fill="#000">+</text>
<text x="188.70" y="445.50" font-size="9.5" text-anchor="end" font-weight="bold" fill="#000">+</text>
<text x="230.10" y="445.50" font-size="9.5" text-anchor="end" font-weight="bold" fill="#000">+</text>
<text x="266.00" y="445.50" font-size="9.5" text-anchor="end" font-weight="bold" fill="#000">+</text>
<text x="301.20" y="445.50" font-size="9.5" text-anchor="end" font-weight="bold" fill="#000">+</text>
<text x="342.90" y="444.50" font-size="9.5" text-anchor="end" font-weight="bold" fill="#000">-</text>
<text x="378.50" y="444.50" font-size="9.5" text-anchor="end" font-weight="bold" fill="#000">-</text>
<text x="414.10" y="444.50" font-size="9.5" text-anchor="end" font-weight="bold" fill="#000">-</text>
<text x="455.30" y="444.50" font-size="9.5" text-anchor="end" font-weight="bold" fill="#000">-</text>
<text x="55.00" y="460.60" font-size="10" text-anchor="end" font-weight="bold" fill="#000"><tspan font-family="Liberation Serif" font-weight="normal" font-size="1.18em" stroke-width="0.25">&#945;</tspan>-IL-6</text>
<text x="78.20" y="459.40" font-size="9.5" text-anchor="end" font-weight="bold" fill="#000">-</text>
<text x="113.70" y="459.40" font-size="9.5" text-anchor="end" font-weight="bold" fill="#000">-</text>
<text x="153.10" y="459.40" font-size="9.5" text-anchor="end" font-weight="bold" fill="#000">-</text>
<text x="188.70" y="459.40" font-size="9.5" text-anchor="end" font-weight="bold" fill="#000">-</text>
<text x="230.10" y="460.40" font-size="9.5" text-anchor="end" font-weight="bold" fill="#000">+</text>
<text x="266.00" y="459.40" font-size="9.5" text-anchor="end" font-weight="bold" fill="#000">-</text>
<text x="301.20" y="460.40" font-size="9.5" text-anchor="end" font-weight="bold" fill="#000">+</text>
<text x="342.90" y="459.40" font-size="9.5" text-anchor="end" font-weight="bold" fill="#000">-</text>
<text x="378.50" y="460.40" font-size="9.5" text-anchor="end" font-weight="bold" fill="#000">+</text>
<text x="414.10" y="459.40" font-size="9.5" text-anchor="end" font-weight="bold" fill="#000">-</text>
<text x="455.30" y="460.40" font-size="9.5" text-anchor="end" font-weight="bold" fill="#000">+</text>
<text x="55.00" y="475.60" font-size="10" text-anchor="end" font-weight="bold" fill="#000"><tspan font-family="Liberation Serif" font-weight="normal" font-size="1.18em" stroke-width="0.25">&#945;</tspan>-gp130</text>
<text x="78.20" y="474.30" font-size="9.5" text-anchor="end" font-weight="bold" fill="#000">-</text>
<text x="113.70" y="474.30" font-size="9.5" text-anchor="end" font-weight="bold" fill="#000">-</text>
<text x="153.10" y="474.30" font-size="9.5" text-anchor="end" font-weight="bold" fill="#000">-</text>
<text x="188.70" y="474.30" font-size="9.5" text-anchor="end" font-weight="bold" fill="#000">-</text>
<text x="230.10" y="474.30" font-size="9.5" text-anchor="end" font-weight="bold" fill="#000">-</text>
<text x="266.00" y="475.30" font-size="9.5" text-anchor="end" font-weight="bold" fill="#000">+</text>
<text x="301.20" y="475.30" font-size="9.5" text-anchor="end" font-weight="bold" fill="#000">+</text>
<text x="342.90" y="474.30" font-size="9.5" text-anchor="end" font-weight="bold" fill="#000">-</text>
<text x="378.50" y="474.30" font-size="9.5" text-anchor="end" font-weight="bold" fill="#000">-</text>
<text x="414.10" y="475.30" font-size="9.5" text-anchor="end" font-weight="bold" fill="#000">+</text>
<text x="455.30" y="475.30" font-size="9.5" text-anchor="end" font-weight="bold" fill="#000">+</text>
<text x="55.00" y="490.60" font-size="10" text-anchor="end" font-weight="bold" fill="#000">IgG1</text>
<text x="78.20" y="489.20" font-size="9.5" text-anchor="end" font-weight="bold" fill="#000">-</text>
<text x="113.70" y="489.20" font-size="9.5" text-anchor="end" font-weight="bold" fill="#000">-</text>
<text x="153.10" y="489.20" font-size="9.5" text-anchor="end" font-weight="bold" fill="#000">-</text>
<text x="188.70" y="490.20" font-size="9.5" text-anchor="end" font-weight="bold" fill="#000">+</text>
<text x="230.10" y="489.20" font-size="9.5" text-anchor="end" font-weight="bold" fill="#000">-</text>
<text x="266.00" y="489.20" font-size="9.5" text-anchor="end" font-weight="bold" fill="#000">-</text>
<text x="301.20" y="489.20" font-size="9.5" text-anchor="end" font-weight="bold" fill="#000">-</text>
<text x="342.90" y="490.20" font-size="9.5" text-anchor="end" font-weight="bold" fill="#000">+</text>
<text x="378.50" y="489.20" font-size="9.5" text-anchor="end" font-weight="bold" fill="#000">-</text>
<text x="414.10" y="489.20" font-size="9.5" text-anchor="end" font-weight="bold" fill="#000">-</text>
<text x="455.30" y="489.20" font-size="9.5" text-anchor="end" font-weight="bold" fill="#000">-</text>
</svg>
</body></html>
